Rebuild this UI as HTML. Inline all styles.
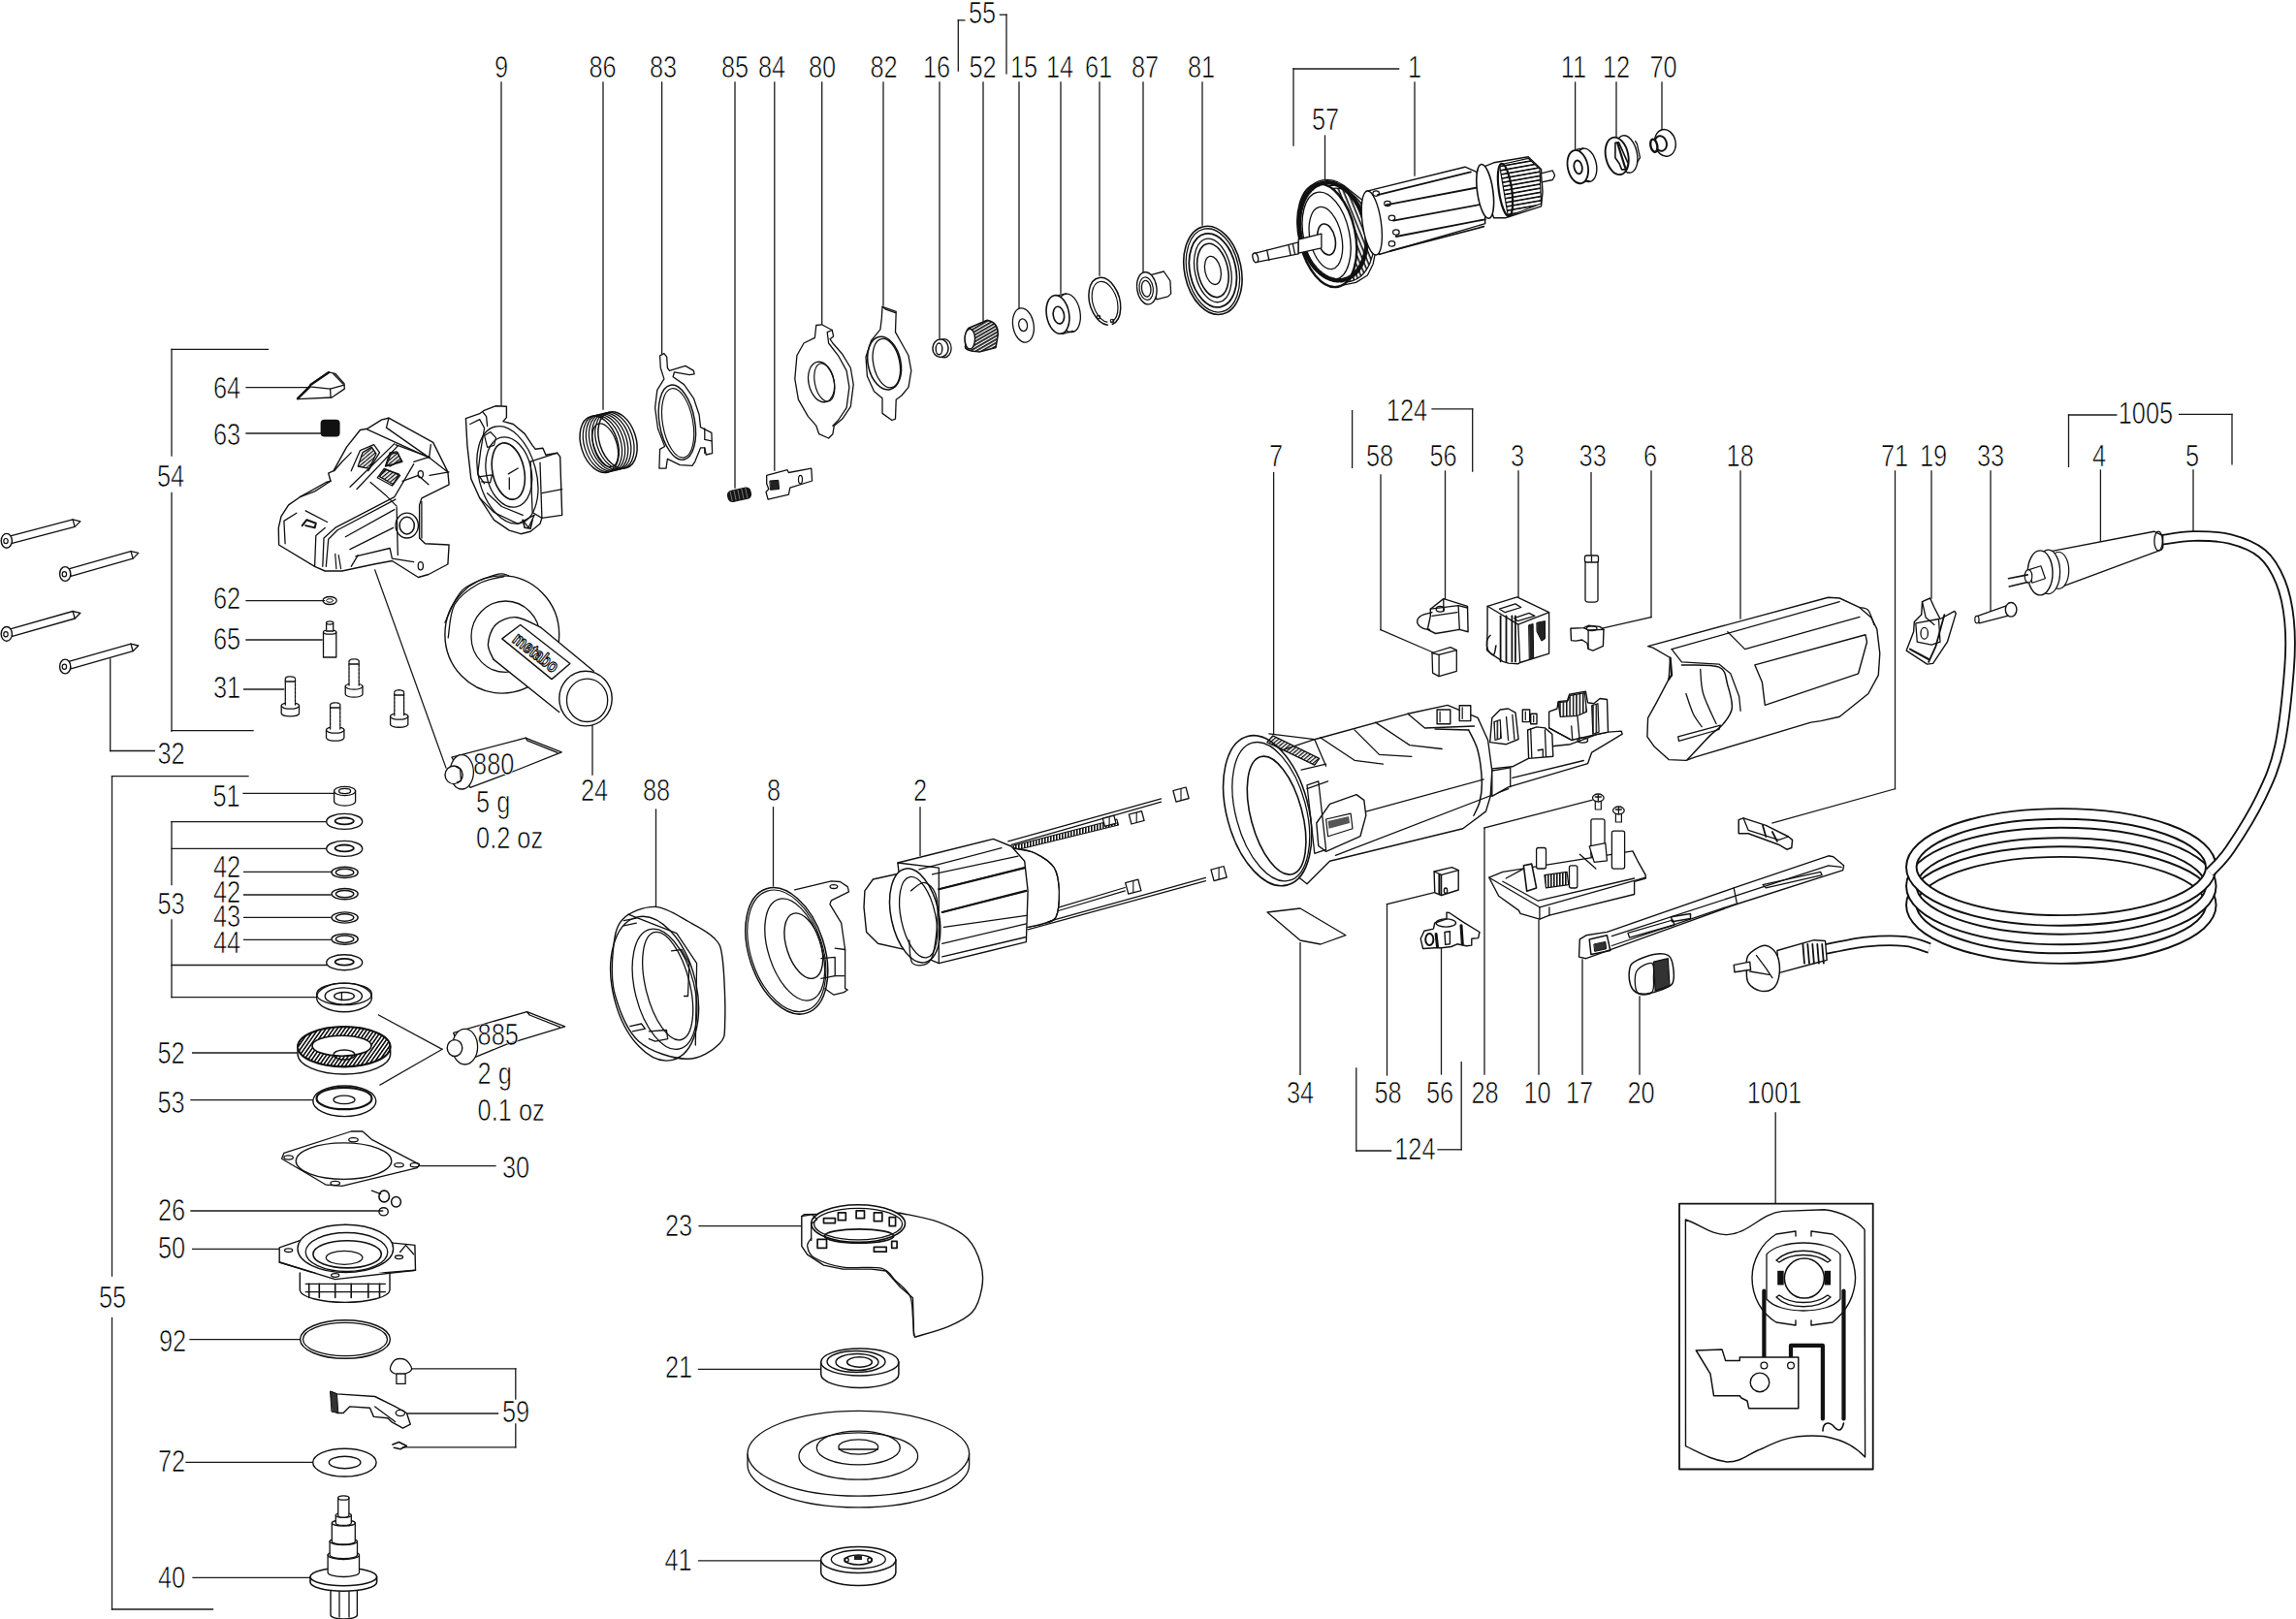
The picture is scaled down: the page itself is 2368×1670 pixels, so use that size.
<!DOCTYPE html><html><head><meta charset="utf-8"><style>html,body{margin:0;padding:0;background:#fff;overflow:hidden}svg{display:block}</style></head><body>
<svg width="2368" height="1670" viewBox="0 0 2368 1670">
<rect width="2368" height="1670" fill="#fff"/>
<g stroke="#1a1a1a" stroke-width="1.3" fill="none" stroke-linecap="square">
<line x1="517" y1="85" x2="517" y2="418"/>
<line x1="622" y1="85" x2="622" y2="422"/>
<line x1="682.6" y1="85" x2="682.6" y2="364.5"/>
<line x1="758" y1="85" x2="758" y2="503"/>
<line x1="798.8" y1="85" x2="798.8" y2="485"/>
<line x1="847.7" y1="85" x2="847.7" y2="334.5"/>
<line x1="911" y1="85" x2="911" y2="315"/>
<line x1="969" y1="85" x2="969" y2="349"/>
<line x1="1014" y1="85" x2="1014" y2="330.5"/>
<line x1="1051" y1="85" x2="1051" y2="318.5"/>
<line x1="1094" y1="85" x2="1094" y2="302"/>
<line x1="1134" y1="85" x2="1134" y2="284"/>
<line x1="1179" y1="85" x2="1179" y2="281"/>
<line x1="1240" y1="85" x2="1240" y2="232"/>
<line x1="1459" y1="85" x2="1459" y2="181"/>
<line x1="1366.5" y1="140" x2="1366.5" y2="189.5"/>
<line x1="1624.6" y1="85" x2="1624.6" y2="153.5"/>
<line x1="1667" y1="85" x2="1667" y2="140.5"/>
<line x1="1714" y1="85" x2="1714" y2="134"/>
<line x1="988.3" y1="20.9" x2="988.3" y2="73.2"/>
<line x1="988.3" y1="20.9" x2="994.8" y2="20.9"/>
<line x1="1031.4" y1="15.2" x2="1038" y2="15.2"/>
<line x1="1038" y1="15.2" x2="1038" y2="75.8"/>
<line x1="1334" y1="71" x2="1442.6" y2="71"/>
<line x1="1334" y1="71" x2="1334" y2="150"/>
<line x1="1394.6" y1="423.6" x2="1394.6" y2="482.4"/>
<line x1="1477" y1="421.8" x2="1518.7" y2="421.8"/>
<line x1="1518.7" y1="421.8" x2="1518.7" y2="486"/>
<line x1="1313.6" y1="487.6" x2="1313.6" y2="757"/>
<line x1="1424" y1="490" x2="1424" y2="649.6"/>
<line x1="1424" y1="649.6" x2="1478" y2="673"/>
<line x1="1490.5" y1="486" x2="1490.5" y2="618"/>
<line x1="1566" y1="486" x2="1566" y2="615.7"/>
<line x1="1641" y1="487.6" x2="1641" y2="575"/>
<line x1="1703" y1="486" x2="1703" y2="636.6"/>
<line x1="1703" y1="636.6" x2="1653" y2="648"/>
<line x1="1795" y1="486" x2="1795" y2="638"/>
<line x1="1954.5" y1="486" x2="1954.5" y2="813.7"/>
<line x1="1954.5" y1="813.7" x2="1828" y2="849"/>
<line x1="1992" y1="486" x2="1992" y2="617"/>
<line x1="2053" y1="486" x2="2053" y2="634"/>
<line x1="2166.4" y1="485" x2="2166.4" y2="560.5"/>
<line x1="2262" y1="485" x2="2262" y2="547.5"/>
<line x1="2133.5" y1="428" x2="2133.5" y2="481.4"/>
<line x1="2133.5" y1="428" x2="2182.8" y2="428"/>
<line x1="2247.6" y1="427.4" x2="2302" y2="427.4"/>
<line x1="2302" y1="427.4" x2="2302" y2="478.8"/>
<line x1="177" y1="360.4" x2="177" y2="470"/>
<line x1="177" y1="508.5" x2="177" y2="754"/>
<line x1="177" y1="360.4" x2="276.5" y2="360.4"/>
<line x1="177" y1="753.6" x2="261" y2="753.6"/>
<line x1="254" y1="399.6" x2="317.5" y2="399.6"/>
<line x1="254" y1="447" x2="332" y2="447"/>
<line x1="254" y1="619.6" x2="334.5" y2="619.6"/>
<line x1="254" y1="660" x2="332" y2="660"/>
<line x1="251.6" y1="711" x2="292.6" y2="711"/>
<line x1="113.7" y1="680" x2="113.7" y2="774.5"/>
<line x1="113.7" y1="774.5" x2="159.4" y2="774.5"/>
<line x1="115.5" y1="800.6" x2="115.5" y2="1316"/>
<line x1="115.5" y1="1359.5" x2="115.5" y2="1660"/>
<line x1="115.5" y1="800.6" x2="256" y2="800.6"/>
<line x1="115.5" y1="1660" x2="219.5" y2="1660"/>
<line x1="251" y1="818.4" x2="343.6" y2="818.4"/>
<line x1="177" y1="847.7" x2="177" y2="912.5"/>
<line x1="177" y1="949" x2="177" y2="1028.7"/>
<line x1="177" y1="847.7" x2="337" y2="847.7"/>
<line x1="177" y1="875.4" x2="337" y2="875.4"/>
<line x1="177" y1="995.5" x2="337" y2="995.5"/>
<line x1="177" y1="1028.7" x2="326.6" y2="1028.7"/>
<line x1="251.6" y1="899.4" x2="342.3" y2="899.4"/>
<line x1="251.6" y1="923" x2="341" y2="923"/>
<line x1="251.6" y1="946.4" x2="341" y2="946.4"/>
<line x1="251.6" y1="969.4" x2="341" y2="969.4"/>
<line x1="198.6" y1="1086" x2="307" y2="1086"/>
<line x1="197" y1="1134.6" x2="324" y2="1134.6"/>
<line x1="433.8" y1="1202.7" x2="511" y2="1202.7"/>
<line x1="197" y1="1249" x2="394.6" y2="1249"/>
<line x1="198.6" y1="1288.4" x2="287.4" y2="1288.4"/>
<line x1="196" y1="1381.7" x2="309.6" y2="1381.7"/>
<line x1="531.8" y1="1411.8" x2="531.8" y2="1443"/>
<line x1="531.8" y1="1469" x2="531.8" y2="1492.8"/>
<line x1="423.3" y1="1411.8" x2="531.8" y2="1411.8"/>
<line x1="420.7" y1="1458" x2="513.5" y2="1458"/>
<line x1="415.5" y1="1492.8" x2="531.8" y2="1492.8"/>
<line x1="192" y1="1508.4" x2="322.7" y2="1508.4"/>
<line x1="199" y1="1627.3" x2="320" y2="1627.3"/>
<line x1="386.7" y1="588" x2="460" y2="792"/>
<line x1="611" y1="748" x2="611" y2="799"/>
<line x1="676.5" y1="835" x2="676.5" y2="934.7"/>
<line x1="797.5" y1="832.8" x2="797.5" y2="913.8"/>
<line x1="949" y1="832.8" x2="949" y2="882.4"/>
<line x1="390.6" y1="1047" x2="456" y2="1082.3"/>
<line x1="392" y1="1119" x2="456" y2="1082.3"/>
<line x1="721" y1="1264.7" x2="828.5" y2="1264.7"/>
<line x1="720.5" y1="1412.4" x2="846.7" y2="1412.4"/>
<line x1="720.5" y1="1609.8" x2="846.7" y2="1609.8"/>
<line x1="1341" y1="972.6" x2="1341" y2="1108.4"/>
<line x1="1430.5" y1="932.6" x2="1430.5" y2="1109"/>
<line x1="1430.5" y1="932.6" x2="1478.6" y2="920.8"/>
<line x1="1486.5" y1="977" x2="1486.5" y2="1108"/>
<line x1="1531" y1="854" x2="1531" y2="1108"/>
<line x1="1531" y1="854" x2="1642" y2="825.4"/>
<line x1="1587" y1="949.5" x2="1587" y2="1108"/>
<line x1="1632" y1="990" x2="1632" y2="1108"/>
<line x1="1691" y1="1028" x2="1691" y2="1108"/>
<line x1="1398.8" y1="1102" x2="1398.8" y2="1187"/>
<line x1="1398.8" y1="1187" x2="1434.6" y2="1187"/>
<line x1="1483" y1="1185.8" x2="1507.2" y2="1185.8"/>
<line x1="1507.2" y1="1095.7" x2="1507.2" y2="1185.8"/>
<line x1="1831.2" y1="1148" x2="1831.2" y2="1241.6"/>
</g>
<g stroke-linejoin="round" stroke-linecap="round">
<path d="M307,411.1 L320,397.2 L338.9,383.9 L345.6,385.3 L355,395.6 L355.3,401.1 L342.2,410 L307,411.7 Z" fill="#fff" stroke="#111" stroke-width="1.3" />
<path d="M320,397.2 L319.5,398.9 L340.6,401.1 L355,397.2" fill="none" stroke="#111" stroke-width="1.3" />
<path d="M340.6,401.1 L341.1,410" fill="none" stroke="#111" stroke-width="1.3" />
<path d="M343.9,385.8 L353.9,396.1" fill="none" stroke="#111" stroke-width="1.3" />
<path d="M307,411.1 L319.5,398.9" fill="none" stroke="#111" stroke-width="2.5" />
<path d="M320.6,396.7 L338.9,384.2" fill="none" stroke="#111" stroke-width="2.5" />
<rect x="330.6" y="432.8" width="20" height="17.8" rx="4" fill="#111"/>
<path d="M287.6,562 L287.3,544.4 L290,532.7 L297.6,520.9 L309.3,512.7 L336.3,497.5 L341,496.3 L338.7,488.1 L344,485.7 L357.5,461.1 L371.5,443.5 L378.6,442.3 L393.8,432.9 L400.9,431.2 L446.7,456.4 L461.9,486.9 L463.1,499.8 L434.9,513.9 L432.6,520.9 L432.6,555 L438.5,560.8 L463.1,562 L461.9,582 L442,592.5 L431.4,595.5 L404.4,578.5 L385.6,582 L352.8,589 L335.2,589 L324.6,584.3 Z" fill="#fff" stroke="#111" stroke-width="1.4" />
<path d="M361,502.2 L406.8,457.6" fill="none" stroke="#111" stroke-width="1.3" />
<path d="M368,504.5 L410.3,459.9" fill="none" stroke="#111" stroke-width="1.3" />
<path d="M378.6,442.9 L442.6,472.2" fill="none" stroke="#111" stroke-width="1.3" />
<path d="M407.9,458.7 L443.1,471.6" fill="none" stroke="#111" stroke-width="1.3" />
<path d="M442.6,472.2 L444.3,458.7" fill="none" stroke="#111" stroke-width="1.3" />
<path d="M426.7,476.3 L442,471.6 L461.9,486.9" fill="none" stroke="#111" stroke-width="1.3" />
<path d="M332.8,584.3 L334,555 L345.7,544.4 L406.8,512.7 L426.7,478.7" fill="none" stroke="#111" stroke-width="1.3" />
<path d="M336.3,584.3 L338.7,556.2 L348.1,546.8 L407.9,515.1" fill="none" stroke="#111" stroke-width="1.3" />
<path d="M356.3,553.8 L406.8,525.6" fill="none" stroke="#111" stroke-width="1.3" />
<path d="M361,566.7 L405.6,544.4" fill="none" stroke="#111" stroke-width="1.3" />
<path d="M366.9,573.8 L402.1,565.5 L404.4,576.1 L426.7,579.6" fill="none" stroke="#111" stroke-width="1.3" />
<path d="M362.2,584.3 L369.2,572.6" fill="none" stroke="#111" stroke-width="1.3" />
<path d="M315.2,526.8 L337.5,538.5" fill="none" stroke="#111" stroke-width="1.3" />
<path d="M309.3,512.7 L324.6,506.9 L341,496.3" fill="none" stroke="#111" stroke-width="1.3" />
<path d="M294.1,560.8 L292.9,537.4 L305.8,529.2" fill="none" stroke="#111" stroke-width="1.3" />
<path d="M324.6,584.3 L325.8,552.6 L335.2,544.4" fill="none" stroke="#111" stroke-width="1.3" />
<path d="M409.1,523.3 L410.3,572.6" fill="none" stroke="#111" stroke-width="1.3" />
<path d="M434.9,517.4 L434.9,555" fill="none" stroke="#111" stroke-width="1.3" />
<path d="M443.1,490.4 L463.1,486.9" fill="none" stroke="#111" stroke-width="1.3" />
<path d="M415,496.3 L431.4,490.4 L442,499.8" fill="none" stroke="#111" stroke-width="1.3" />
<path d="M382.1,497.5 L397.4,510.4 L409.1,522.1" fill="none" stroke="#111" stroke-width="1.3" />
<path d="M389.2,492.8 L396.2,483.4 L412.6,490.4 L404.4,501 L389.2,492.8" fill="none" stroke="#111" stroke-width="1.3" />
<path d="M397.4,481 L402.1,466.9 L409.1,465.8 L415,476.3 L397.4,481" fill="none" stroke="#111" stroke-width="1.3" />
<path d="M362.2,485.7 L371.5,464.6 L385.6,458.7 L391.5,466.9 L379.8,485.7" fill="none" stroke="#111" stroke-width="1.3" />
<path d="M344.6,485.7 L352.8,476.3 L362.2,466.9" fill="none" stroke="#111" stroke-width="1.3" />
<ellipse cx="419.7" cy="542.1" rx="7.6" ry="8.8" fill="none" stroke="#111" stroke-width="1.5"/>
<ellipse cx="419.7" cy="542.1" rx="11.7" ry="12.9" fill="none" stroke="#111" stroke-width="1.3"/>
<ellipse cx="433.8" cy="583.7" rx="2.6" ry="4.1" fill="none" stroke="#111" stroke-width="1.3"/>
<ellipse cx="433.8" cy="489.2" rx="2.6" ry="3.5" fill="none" stroke="#111" stroke-width="1.3"/>
<path d="M311.7,542.1 L316.4,536.2 L325.8,539.7 L324.6,544.4 L315.2,542.1" fill="none" stroke="#111" stroke-width="2" />
<path d="M480.4,431.6 L494.7,426.7 L498.7,423.7 L511,418.8 L522.4,419.3 L522.4,430.6 L518.9,434.6 L529.3,437.5 L541.1,447.4 L549.1,459.3 L552,463.2 L559.9,462.3 L562.9,469.2 L574.7,467.2 L577.7,471.1 L579.7,531.4 L558.9,534.4 L557,540.3 L547.1,548.2 L537.2,550.7 L525.3,547.2 L509.5,536.4 L494.7,513.6 L485.8,493.9 L481.9,459.3 Z" fill="#fff" stroke="#111" stroke-width="1.4" />
<ellipse cx="524.3" cy="486" rx="16.3" ry="29.6" fill="none" stroke="#111" stroke-width="1.6" transform="rotate(-12 524.3 486)"/>
<ellipse cx="524.8" cy="487" rx="23.2" ry="36.6" fill="none" stroke="#111" stroke-width="1.3" transform="rotate(-12 524.8 487)"/>
<ellipse cx="523.4" cy="489.9" rx="29.6" ry="51.4" fill="none" stroke="#111" stroke-width="1.3" transform="rotate(-15 523.4 489.9)"/>
<path d="M547.1,476.1 L574.7,467.2" fill="none" stroke="#111" stroke-width="1.3" />
<path d="M557,477.1 L558.9,534.4" fill="none" stroke="#111" stroke-width="1.3" />
<path d="M547.1,476.1 L549.1,528.5 L558.9,534.4" fill="none" stroke="#111" stroke-width="1.3" />
<path d="M558.9,508.7 L579.7,504.7" fill="none" stroke="#111" stroke-width="1.3" />
<path d="M484.8,437.5 L494.7,432.6 L499.6,441.5 L495.7,465.2 L492.7,488.9 L499.6,498.8" fill="none" stroke="#111" stroke-width="1.3" />
<path d="M493.7,491.9 L507.5,489.9 L505.6,497.8 L496.7,496.8" fill="none" stroke="#111" stroke-width="1.3" />
<path d="M524.3,488.9 L534.2,483" fill="none" stroke="#111" stroke-width="1.3" />
<path d="M525.3,492.9 L525.3,504.7" fill="none" stroke="#111" stroke-width="1.3" />
<path d="M539.2,536.4 L545.1,544.3 L551,531.4" fill="none" stroke="#111" stroke-width="1.3" />
<path d="M497.7,424.7 L501.6,429.6 L502.6,439.5" fill="none" stroke="#111" stroke-width="1.3" />
<path d="M12.6,560.3 L77.1,543.4 L82.9,537.9 L75.1,535.9 L10.7,552.8 Z" fill="#fff" stroke="#111" stroke-width="1.3" />
<path d="M77.1,543.4 L75.1,535.9" fill="none" stroke="#111" stroke-width="1.3" />
<ellipse cx="6.8" cy="557.8" rx="5.6" ry="7.4" fill="#fff" stroke="#111" stroke-width="1.4"/>
<ellipse cx="6" cy="558.1" rx="2.2" ry="2.6" fill="none" stroke="#111" stroke-width="1.2"/>
<path d="M73.1,594.4 L137.1,576.1 L142.8,570.4 L135,568.6 L70.9,586.9 Z" fill="#fff" stroke="#111" stroke-width="1.3" />
<path d="M137.1,576.1 L135,568.6" fill="none" stroke="#111" stroke-width="1.3" />
<ellipse cx="67.2" cy="592" rx="5.6" ry="7.4" fill="#fff" stroke="#111" stroke-width="1.4"/>
<ellipse cx="66.4" cy="592.3" rx="2.2" ry="2.6" fill="none" stroke="#111" stroke-width="1.2"/>
<path d="M12.7,656.3 L77.2,638 L82.9,632.3 L75.1,630.5 L10.5,648.8 Z" fill="#fff" stroke="#111" stroke-width="1.3" />
<path d="M77.2,638 L75.1,630.5" fill="none" stroke="#111" stroke-width="1.3" />
<ellipse cx="6.8" cy="653.9" rx="5.6" ry="7.4" fill="#fff" stroke="#111" stroke-width="1.4"/>
<ellipse cx="6" cy="654.2" rx="2.2" ry="2.6" fill="none" stroke="#111" stroke-width="1.2"/>
<path d="M73.1,689.9 L137.1,671.7 L142.8,666 L135,664.2 L70.9,682.4 Z" fill="#fff" stroke="#111" stroke-width="1.3" />
<path d="M137.1,671.7 L135,664.2" fill="none" stroke="#111" stroke-width="1.3" />
<ellipse cx="67.2" cy="687.5" rx="5.6" ry="7.4" fill="#fff" stroke="#111" stroke-width="1.4"/>
<ellipse cx="66.4" cy="687.8" rx="2.2" ry="2.6" fill="none" stroke="#111" stroke-width="1.2"/>
<ellipse cx="340.1" cy="619.5" rx="7.1" ry="4" fill="none" stroke="#111" stroke-width="1.3"/>
<ellipse cx="340.1" cy="619.5" rx="3.5" ry="1.8" fill="none" stroke="#111" stroke-width="1"/>
<path d="M333.5,652 L333.5,678 L346.8,678 L346.8,652 Z" fill="#fff" stroke="#111" stroke-width="1.3" />
<ellipse cx="340.1" cy="652" rx="6.6" ry="2.2" fill="#fff" stroke="#111" stroke-width="1.3"/>
<path d="M336.6,643 L336.6,651 L343.7,651 L343.7,643 Z" fill="#fff" stroke="#111" stroke-width="1.3" />
<ellipse cx="340.1" cy="642.5" rx="3.6" ry="1.6" fill="#fff" stroke="#111" stroke-width="1.3"/>
<path d="M290.2,728 L290.2,736 A9.2,3.2 0 0 0 308.5,736 L308.5,728" fill="#fff" stroke="#111" stroke-width="1.3"/>
<ellipse cx="299.4" cy="728" rx="9.2" ry="3.2" fill="#fff" stroke="#111" stroke-width="1.3"/>
<path d="M294.3,727 L294.3,700 A5.1,2.2 0 0 1 304.5,700 L304.5,727" fill="#fff" stroke="#111" stroke-width="1.3" stroke-dasharray="3 1"/>
<path d="M294.3,703 L304.5,703" fill="none" stroke="#111" stroke-width="1.3" />
<path d="M356.2,708 L356.2,716 A8.9,3.2 0 0 0 374,716 L374,708" fill="#fff" stroke="#111" stroke-width="1.3"/>
<ellipse cx="365.1" cy="708" rx="8.9" ry="3.2" fill="#fff" stroke="#111" stroke-width="1.3"/>
<path d="M360,707 L360,682 A5.1,2.2 0 0 1 370.2,682 L370.2,707" fill="#fff" stroke="#111" stroke-width="1.3" stroke-dasharray="3 1"/>
<path d="M360,685 L370.2,685" fill="none" stroke="#111" stroke-width="1.3" />
<path d="M402.6,739 L402.6,747.5 A9.2,3.2 0 0 0 420.8,747.5 L420.8,739" fill="#fff" stroke="#111" stroke-width="1.3"/>
<ellipse cx="411.7" cy="739" rx="9.2" ry="3.2" fill="#fff" stroke="#111" stroke-width="1.3"/>
<path d="M406.8,738 L406.8,714 A4.8,2.2 0 0 1 416.6,714 L416.6,738" fill="#fff" stroke="#111" stroke-width="1.3" stroke-dasharray="3 1"/>
<path d="M406.8,717 L416.6,717" fill="none" stroke="#111" stroke-width="1.3" />
<path d="M336.5,753 L336.5,761 A9.2,3.2 0 0 0 354.9,761 L354.9,753" fill="#fff" stroke="#111" stroke-width="1.3"/>
<ellipse cx="345.7" cy="753" rx="9.2" ry="3.2" fill="#fff" stroke="#111" stroke-width="1.3"/>
<path d="M340.6,752 L340.6,727 A5.1,2.2 0 0 1 350.8,727 L350.8,752" fill="#fff" stroke="#111" stroke-width="1.3" stroke-dasharray="3 1"/>
<path d="M340.6,730 L350.8,730" fill="none" stroke="#111" stroke-width="1.3" />
<ellipse cx="517.8" cy="654.5" rx="58.9" ry="60.6" fill="#fff" stroke="#111" stroke-width="1.4"/>
<path d="M458.9,642.3 C461.9,636.7 468,617.2 476.7,608.9 C485.4,600.7 503.2,595.3 511.2,592.8 C519.1,590.2 522.3,593.4 524.5,593.6" fill="none" stroke="#111" stroke-width="1.3"/>
<path d="M462.2,657.8 C463.3,652.1 463.7,632.6 468.9,623.4 C474.1,614.1 484.8,607.1 493.4,602.2 C501.9,597.4 515.6,595.7 520,594.5" fill="none" stroke="#111" stroke-width="1.3"/>
<ellipse cx="521.4" cy="656.7" rx="35.4" ry="36.7" fill="none" stroke="#111" stroke-width="1.3"/>
<path d="M557.8,646.7 L612.3,692.3 L604.5,735.6 L576.7,734.5 L508.9,680.1" fill="#fff" stroke="#111" stroke-width="0" />
<path d="M557.8,647.3 C553.6,645.5 540.1,637.2 532.3,636.7 C524.5,636.2 516,639.8 511.2,644.5 C506.3,649.1 503.7,658.6 503.4,664.5 C503,670.4 508,677.5 508.9,680.1" fill="#fff" stroke="#111" stroke-width="1.4"/>
<path d="M557.8,647.3 L612.3,692.3" fill="none" stroke="#111" stroke-width="1.4" />
<path d="M508.9,680.1 L576.7,734.5" fill="none" stroke="#111" stroke-width="1.4" />
<ellipse cx="604" cy="720.6" rx="27.2" ry="28.3" fill="#fff" stroke="#111" stroke-width="1.4"/>
<ellipse cx="605.6" cy="722.3" rx="21.1" ry="22.2" fill="none" stroke="#111" stroke-width="1.3"/>
<path d="M517.8,658.9 L536.7,644.5 L587.9,684.5 L569,700.6 Z" fill="none" stroke="#111" stroke-width="1.4" />
<text transform="translate(552.8,672.8) rotate(38) scale(0.8,1)" text-anchor="middle" dominant-baseline="central" font-family="Liberation Sans" font-weight="bold" font-size="19" fill="#fff" stroke="#111" stroke-width="1.3">metabo</text>
<path d="M465.9,781.1 L542.1,761.2 L579.2,775.9 L532.5,794.5 L485,812.3 Z" fill="#fff" stroke="#111" stroke-width="1.3" />
<path d="M542.1,761.2 L543.8,763.8 L574.9,776.4" fill="none" stroke="#111" stroke-width="1.3" />
<ellipse cx="476.3" cy="796.3" rx="12.1" ry="17.7" fill="#fff" stroke="#111" stroke-width="1.3"/>
<ellipse cx="468.1" cy="799.3" rx="9.1" ry="9.3" fill="#fff" stroke="#111" stroke-width="1.4"/>
<path d="M470.3,790.6 L474.6,793.2 L475.5,805.4 L471.1,807.1" fill="none" stroke="#111" stroke-width="1.3" />
<path d="M344.6,816 L344.6,826.5 A11,4.6 0 0 0 366.6,826.5 L366.6,816" fill="#fff" stroke="#111" stroke-width="1.3"/>
<ellipse cx="355.6" cy="816" rx="11" ry="4.6" fill="#fff" stroke="#111" stroke-width="1.3"/>
<ellipse cx="355.6" cy="816" rx="6" ry="2.6" fill="none" stroke="#111" stroke-width="1.3"/>
<ellipse cx="355.2" cy="847.4" rx="18.5" ry="8" fill="#fff" stroke="#111" stroke-width="1.4"/>
<ellipse cx="355.2" cy="846.9" rx="9.6" ry="3.4" fill="none" stroke="#111" stroke-width="1.8"/>
<ellipse cx="355.2" cy="875.4" rx="18.5" ry="8" fill="#fff" stroke="#111" stroke-width="1.4"/>
<ellipse cx="355.2" cy="874.9" rx="9.6" ry="3.4" fill="none" stroke="#111" stroke-width="1.8"/>
<ellipse cx="355.2" cy="992.8" rx="18.5" ry="8" fill="#fff" stroke="#111" stroke-width="1.4"/>
<ellipse cx="355.2" cy="992.3" rx="9.6" ry="3.4" fill="none" stroke="#111" stroke-width="1.8"/>
<ellipse cx="355.6" cy="899.9" rx="13.6" ry="5.6" fill="#fff" stroke="#111" stroke-width="1.4"/>
<ellipse cx="355.6" cy="899.9" rx="9.3" ry="3.7" fill="none" stroke="#111" stroke-width="1.5"/>
<ellipse cx="355.6" cy="922.1" rx="13.6" ry="5.6" fill="#fff" stroke="#111" stroke-width="1.4"/>
<ellipse cx="355.6" cy="922.1" rx="9.3" ry="3.7" fill="none" stroke="#111" stroke-width="1.5"/>
<ellipse cx="355.6" cy="946.5" rx="13.6" ry="5.6" fill="#fff" stroke="#111" stroke-width="1.4"/>
<ellipse cx="355.6" cy="946.5" rx="9.3" ry="3.7" fill="none" stroke="#111" stroke-width="1.5"/>
<ellipse cx="355.6" cy="968.7" rx="13.6" ry="5.6" fill="#fff" stroke="#111" stroke-width="1.4"/>
<ellipse cx="355.6" cy="968.7" rx="9.3" ry="3.7" fill="none" stroke="#111" stroke-width="1.5"/>
<ellipse cx="355" cy="1028.9" rx="28.4" ry="14.8" fill="#fff" stroke="#111" stroke-width="1.4"/>
<ellipse cx="355" cy="1025.4" rx="28.4" ry="11.3" fill="none" stroke="#111" stroke-width="1.3"/>
<ellipse cx="354.3" cy="1027.5" rx="19.1" ry="8.6" fill="none" stroke="#111" stroke-width="1.4"/>
<ellipse cx="355" cy="1027.5" rx="10.3" ry="4" fill="none" stroke="#111" stroke-width="1.4"/>
<path d="M352.4,1024.1 L352.4,1031.8" fill="none" stroke="#111" stroke-width="1.3" />
<defs><pattern id="teeth" patternUnits="userSpaceOnUse" width="3.2" height="3.2" patternTransform="rotate(35)"><rect width="1.6" height="3.2" fill="#111"/></pattern></defs>
<path d="M307,1083 L307,1087 A47.8,21 0 0 0 402.7,1087 L402.7,1083" fill="#fff" stroke="#111" stroke-width="1.4"/>
<path d="M307,1080 A47.8,20.6 0 1 0 402.7,1080 A47.8,20.6 0 1 0 307,1080 Z M322,1078.7 A30.5,10.5 0 1 1 383,1078.7 A30.5,10.5 0 1 1 322,1078.7 Z" fill="url(#teeth)" fill-rule="evenodd" stroke="#111" stroke-width="1.6"/>
<ellipse cx="354.8" cy="1079.5" rx="47.8" ry="20.6" fill="none" stroke="#111" stroke-width="1.6"/>
<ellipse cx="355" cy="1088" rx="11" ry="5" fill="none" stroke="#111" stroke-width="1.3"/>
<ellipse cx="355.3" cy="1135.8" rx="32.5" ry="15.8" fill="#fff" stroke="#111" stroke-width="1.4"/>
<ellipse cx="355" cy="1133" rx="28.5" ry="11.2" fill="none" stroke="#111" stroke-width="2.2"/>
<ellipse cx="355" cy="1134.4" rx="11" ry="4.3" fill="none" stroke="#111" stroke-width="1.3"/>
<path d="M467.7,1065.3 L543.5,1043.6 L582.7,1058.8 L522.6,1077.1 L478.2,1095.4 Z" fill="#fff" stroke="#111" stroke-width="1.3" />
<path d="M543.5,1043.6 L546.1,1047 L577.5,1059.3" fill="none" stroke="#111" stroke-width="1.3" />
<ellipse cx="479.5" cy="1079.7" rx="13.1" ry="18.3" fill="#fff" stroke="#111" stroke-width="1.3"/>
<ellipse cx="469" cy="1081" rx="7.8" ry="8.4" fill="#fff" stroke="#111" stroke-width="1.4"/>
<path d="M290.6,1195.2 L292.9,1189.3 L362.2,1167 L373.9,1167 L383.3,1175.3 L432.6,1201.1 L430.3,1204.6 L352.8,1223.4 L336.3,1222.2 L324.6,1215.2 Z" fill="#fff" stroke="#111" stroke-width="1.3" />
<ellipse cx="354.5" cy="1197.6" rx="49.3" ry="18.8" fill="none" stroke="#111" stroke-width="1.3"/>
<ellipse cx="297.6" cy="1194" rx="4.7" ry="2.1" fill="none" stroke="#111" stroke-width="1.3"/>
<ellipse cx="364.5" cy="1175.8" rx="4.7" ry="2.1" fill="none" stroke="#111" stroke-width="1.3"/>
<ellipse cx="411.5" cy="1201.7" rx="4.7" ry="2.1" fill="none" stroke="#111" stroke-width="1.3"/>
<ellipse cx="427.9" cy="1201.7" rx="4.7" ry="2.1" fill="none" stroke="#111" stroke-width="1.3"/>
<ellipse cx="345.7" cy="1220.5" rx="4.7" ry="2.1" fill="none" stroke="#111" stroke-width="1.3"/>
<ellipse cx="396.2" cy="1234" rx="5.3" ry="5.9" fill="none" stroke="#111" stroke-width="1.6"/>
<ellipse cx="408.5" cy="1239.8" rx="4.9" ry="5.3" fill="none" stroke="#111" stroke-width="1.5"/>
<ellipse cx="395.6" cy="1249.8" rx="4.7" ry="4.1" fill="none" stroke="#111" stroke-width="1.4"/>
<path d="M383.3,1228.1 L392.7,1231.6" fill="none" stroke="#111" stroke-width="1.3" />
<path d="M288.2,1286.8 L307,1280.3 L356.3,1263.3 L405.6,1282.1 L427.9,1284.4 L428.5,1310.3 L397.4,1312.6 L345.7,1319.6 L288.2,1302 Z" fill="#fff" stroke="#111" stroke-width="1.4" />
<path d="M309.3,1313 L309.3,1331 A46.4,13 0 0 0 402,1331 L402,1313" fill="#fff" stroke="#111" stroke-width="1.4"/>
<path d="M288.2,1302 L345.7,1319.6 L428.5,1310.3" fill="none" stroke="#111" stroke-width="1.4" />
<ellipse cx="356.3" cy="1287.9" rx="49.3" ry="24.7" fill="#fff" stroke="#111" stroke-width="1.4"/>
<ellipse cx="357.5" cy="1291.5" rx="42.3" ry="20" fill="none" stroke="#111" stroke-width="1.3"/>
<ellipse cx="358.1" cy="1293.8" rx="35.2" ry="14.1" fill="none" stroke="#111" stroke-width="1.6"/>
<ellipse cx="355.1" cy="1297.3" rx="18.8" ry="7" fill="none" stroke="#111" stroke-width="1.3"/>
<ellipse cx="297.6" cy="1289.7" rx="4.1" ry="1.8" fill="none" stroke="#111" stroke-width="1.3"/>
<ellipse cx="411.5" cy="1296.8" rx="4.1" ry="1.8" fill="none" stroke="#111" stroke-width="1.3"/>
<ellipse cx="345.7" cy="1315.5" rx="4.1" ry="1.8" fill="none" stroke="#111" stroke-width="1.3"/>
<path d="M315.2,1324.3 L397.4,1324.3" fill="none" stroke="#111" stroke-width="1.3" />
<path d="M315.2,1332.6 L397.4,1332.6" fill="none" stroke="#111" stroke-width="1.3" />
<path d="M318.7,1324.3 L318.7,1338.4" fill="none" stroke="#111" stroke-width="1.6" />
<path d="M329.3,1324.3 L329.3,1338.4" fill="none" stroke="#111" stroke-width="1.6" />
<path d="M345.7,1324.3 L345.7,1338.4" fill="none" stroke="#111" stroke-width="1.6" />
<path d="M362.2,1324.3 L362.2,1338.4" fill="none" stroke="#111" stroke-width="1.6" />
<path d="M379.8,1324.3 L379.8,1338.4" fill="none" stroke="#111" stroke-width="1.6" />
<path d="M391.5,1324.3 L391.5,1338.4" fill="none" stroke="#111" stroke-width="1.6" />
<path d="M412.6,1291.5 L418.5,1284.4 L426.7,1293.8" fill="none" stroke="#111" stroke-width="1.3" />
<ellipse cx="356" cy="1381.5" rx="46.4" ry="19.8" fill="none" stroke="#111" stroke-width="1.4"/>
<ellipse cx="356" cy="1381.5" rx="43.5" ry="17.2" fill="none" stroke="#111" stroke-width="1.3"/>
<path d="M402.4,1411.8 C402.4,1409.4 405,1404.1 407.6,1402.6 C410.2,1401.1 415.3,1401.1 418.1,1402.6 C420.9,1404.1 424.6,1409.4 424.6,1411.8 C424.6,1414.1 420.9,1416.1 418.1,1417 C415.3,1417.9 410.2,1417.9 407.6,1417 C405,1416.1 402.4,1414.1 402.4,1411.8 Z" fill="#fff" stroke="#111" stroke-width="1.3"/>
<path d="M408.9,1417 L408.9,1427.4 L418.1,1427.4 L418.1,1417 Z" fill="#fff" stroke="#111" stroke-width="1.3" />
<path d="M341,1435.3 L347.5,1437.9 L386.7,1440.5 L407.6,1450.9 L419.4,1457.5 L423.3,1469.2 L415.5,1473.2 L403.7,1466.6 L399.8,1462.7 L385.4,1461.4 L381.5,1452.3 L360.6,1450.9 L354.1,1457.5 L347.5,1457.5 L342.3,1448.3 Z" fill="#fff" stroke="#111" stroke-width="1.4" />
<path d="M341,1435.3 L347.5,1437.9 L348.8,1457.5 L342.3,1456.2 Z" fill="#333" stroke="#111" stroke-width="1" />
<ellipse cx="412.9" cy="1457.5" rx="4.7" ry="3.1" fill="none" stroke="#111" stroke-width="1.3"/>
<path d="M386.7,1450.9 L407.6,1466.6" fill="none" stroke="#111" stroke-width="1.3" />
<path d="M405,1490.1 L411.5,1487.5 L419.4,1491.5 L412.9,1494.8 L406.3,1493.3" fill="none" stroke="#111" stroke-width="1.6" />
<ellipse cx="355.4" cy="1508.6" rx="32.7" ry="14.4" fill="#fff" stroke="#111" stroke-width="1.4"/>
<ellipse cx="355.6" cy="1508.5" rx="16.3" ry="6.2" fill="none" stroke="#111" stroke-width="1.4"/>
<path d="M341,1640 L341,1666 A13.7,4 0 0 0 368.4,1666 L368.4,1640" fill="#fff" stroke="#111" stroke-width="1.4"/>
<path d="M350,1642 L350,1668" fill="none" stroke="#111" stroke-width="1.3" />
<path d="M360,1642 L360,1668" fill="none" stroke="#111" stroke-width="1.3" />
<path d="M320,1626.5 L320,1632 A34.3,9.2 0 0 0 388.6,1632 L388.6,1626.5" fill="#fff" stroke="#111" stroke-width="1.6"/>
<ellipse cx="354.3" cy="1626.5" rx="34.3" ry="9.2" fill="#fff" stroke="#111" stroke-width="1.6"/>
<path d="M338.1,1604 L338.1,1622 A16.2,4.5 0 0 0 370.5,1622 L370.5,1604" fill="#fff" stroke="#111" stroke-width="1.3"/>
<ellipse cx="354.3" cy="1604" rx="16.2" ry="4.5" fill="#fff" stroke="#111" stroke-width="1.3"/>
<path d="M340.1,1590 L340.1,1604 A14.2,3.6 0 0 0 368.5,1604 L368.5,1590" fill="#fff" stroke="#111" stroke-width="1.3"/>
<ellipse cx="354.3" cy="1590" rx="14.2" ry="3.6" fill="#fff" stroke="#111" stroke-width="1.3"/>
<path d="M342.3,1571 L342.3,1590 A12,3 0 0 0 366.3,1590 L366.3,1571" fill="#fff" stroke="#111" stroke-width="1.3"/>
<ellipse cx="354.3" cy="1571" rx="12" ry="3" fill="#fff" stroke="#111" stroke-width="1.3"/>
<path d="M346.3,1563 L346.3,1571 A8,2.4 0 0 0 362.3,1571 L362.3,1563" fill="#fff" stroke="#111" stroke-width="1.3"/>
<ellipse cx="354.3" cy="1563" rx="8" ry="2.4" fill="#fff" stroke="#111" stroke-width="1.3"/>
<path d="M348.7,1545 L348.7,1563 A5.6,2.2 0 0 0 359.9,1563 L359.9,1545" fill="#fff" stroke="#111" stroke-width="1.3"/>
<ellipse cx="354.3" cy="1545" rx="5.6" ry="2.2" fill="#fff" stroke="#111" stroke-width="1.3"/>
<ellipse cx="618.2" cy="458.3" rx="18.8" ry="30.1" fill="#fff" stroke="#111" stroke-width="1.5" transform="rotate(-18 618.2 458.3)"/>
<ellipse cx="621.4" cy="457.6" rx="18.8" ry="30.1" fill="none" stroke="#111" stroke-width="1.3" transform="rotate(-18 621.4 457.6)"/>
<ellipse cx="624.5" cy="456.8" rx="18.8" ry="30.1" fill="none" stroke="#111" stroke-width="1.3" transform="rotate(-18 624.5 456.8)"/>
<ellipse cx="627.6" cy="456.1" rx="18.8" ry="30.1" fill="none" stroke="#111" stroke-width="1.3" transform="rotate(-18 627.6 456.1)"/>
<ellipse cx="630.7" cy="455.3" rx="18.8" ry="30.1" fill="none" stroke="#111" stroke-width="1.3" transform="rotate(-18 630.7 455.3)"/>
<ellipse cx="633.9" cy="454.6" rx="18.8" ry="30.1" fill="none" stroke="#111" stroke-width="1.3" transform="rotate(-18 633.9 454.6)"/>
<ellipse cx="637" cy="453.9" rx="18.8" ry="30.1" fill="none" stroke="#111" stroke-width="1.5" transform="rotate(-18 637 453.9)"/>
<ellipse cx="624.2" cy="459.3" rx="11.9" ry="23.2" fill="none" stroke="#111" stroke-width="1.3" transform="rotate(-18 624.2 459.3)"/>
<path d="M680.6,366.8 L684.9,364.6 L687.7,368.2 L688.4,379.5 L690.5,382.4 L706.9,377.4 L715.4,382.4 L716.1,385.9 L711.1,386.6 L695.5,383.8 L694.1,388.8 L705.5,396.6 L715.4,410.8 L721.1,427.8 L722.5,440.6 L733.9,446.3 L734.6,467.6 L728.2,469 L726.8,461.9 L722.5,461.9 L716.8,476.1 L714,480.4 L701.2,479.7 L688.4,473.3 L687,483.2 L679.9,483.2 L680.6,463.4 L685.6,460.5 L678.5,442 L675.6,420.7 L677.8,402.3 L684.9,390.9 L681.3,379.5 Z" fill="#fff" stroke="#111" stroke-width="1.3" />
<ellipse cx="698.4" cy="435.7" rx="18.2" ry="39.1" fill="none" stroke="#111" stroke-width="1.4" transform="rotate(-10 698.4 435.7)"/>
<ellipse cx="699.1" cy="436.4" rx="15.6" ry="36.2" fill="none" stroke="#111" stroke-width="1.2" transform="rotate(-10 699.1 436.4)"/>
<path d="M726.8,442 L726.8,453.4 L733.9,454.8" fill="none" stroke="#111" stroke-width="1.3" />
<path d="M726.8,461.9 L726.8,467.6" fill="none" stroke="#111" stroke-width="1.3" />
<g transform="rotate(-12 762.6 510.2)"><rect x="750" y="504" width="25" height="12.5" rx="5" fill="#151515"/><path d="M754,505 L754,515 M758,505 L758,515 M762,505 L762,515 M766,505 L766,515 M770,505 L770,515" stroke="#888" stroke-width="0.8"/></g>
<path d="M790.7,490.3 L812,484.7 L813.4,487.5 L836.8,483.2 L837.6,496 L814.8,503.1 L813.4,510.2 L792.1,515.2 L790,507.4 L792.8,504.5 L790.7,498.9 Z" fill="#fff" stroke="#111" stroke-width="1.3" />
<path d="M794.2,496 L802.8,495.3 L803.5,504.5 L794.9,505.3 Z" fill="#222" stroke="#111" stroke-width="1" />
<ellipse cx="825.5" cy="494.6" rx="2" ry="4.3" fill="none" stroke="#111" stroke-width="1.2"/>
<path d="M841.8,335.5 L847.5,334.8 L858.2,340.5 L859.6,346.9 L856,349.7 L858.9,354 L868.8,365.3 L877.3,379.5 L880.2,396.6 L877.3,419.3 L868.8,432.1 L860.3,439.2 L858.9,447.7 L854.6,452 L844.7,447.7 L841.8,439.2 L833.3,429.3 L823.4,412.2 L819.8,390.9 L821.9,366.8 L829,354 L840.4,348.3 Z" fill="#fff" stroke="#111" stroke-width="1.3" />
<path d="M858.2,340.5 L853.2,342.6 L854.6,354 L864.5,366.8 L873.1,382.4 L875.9,399.4 L873.1,420.7 L864.5,433.5 L858.9,439.2" fill="none" stroke="#111" stroke-width="1.3" />
<ellipse cx="847.1" cy="394" rx="13.1" ry="21" fill="none" stroke="#111" stroke-width="1.3" transform="rotate(-12 847.1 394)"/>
<ellipse cx="850.3" cy="394.5" rx="9.9" ry="19.9" fill="none" stroke="#111" stroke-width="1.2" transform="rotate(-12 850.3 394.5)"/>
<path d="M910,316.3 L924.2,321.3 L923.5,342.6 L929.9,354 L937,366.8 L939.8,382.4 L937,399.4 L929.9,408 L924.2,412.2 L923.5,432.1 L919.9,433.5 L910,426.4 L910,410.8 L901.5,403.7 L894.4,388.1 L893,368.2 L898.6,351.1 L907.9,339.8 L909.3,328.4 Z" fill="#fff" stroke="#111" stroke-width="1.3" />
<path d="M910,316.3 L913.6,319.2 L923.5,322.7" fill="none" stroke="#111" stroke-width="1.3" />
<ellipse cx="912.1" cy="374.6" rx="16.8" ry="27.7" fill="none" stroke="#111" stroke-width="1.6" transform="rotate(-12 912.1 374.6)"/>
<ellipse cx="914.3" cy="374.6" rx="13.5" ry="25.6" fill="none" stroke="#111" stroke-width="1.3" transform="rotate(-12 914.3 374.6)"/>
<ellipse cx="973.7" cy="359.2" rx="7.4" ry="9.6" fill="#fff" stroke="#111" stroke-width="1.3"/>
<ellipse cx="970" cy="359.2" rx="8.1" ry="9.2" fill="#fff" stroke="#111" stroke-width="1.5"/>
<ellipse cx="968.5" cy="359.9" rx="3.3" ry="5.9" fill="none" stroke="#111" stroke-width="1.4"/>
<defs><pattern id="hel" patternUnits="userSpaceOnUse" width="3" height="3" patternTransform="rotate(-30)"><rect width="3" height="1.7" fill="#111"/></pattern></defs>
<path d="M998.9,338.5 L1018.1,330.3 Q1030,332.5 1029.2,345.9 L1027,358.5 L1010.7,362.9 Q992.9,362.2 995.9,356.2 Q993.7,344.4 998.9,338.5 Z" fill="url(#hel)" stroke="#111" stroke-width="1.5"/>
<ellipse cx="1000.3" cy="349.6" rx="5.2" ry="10.4" fill="#fff" stroke="#111" stroke-width="1.4"/>
<ellipse cx="1055.4" cy="335.5" rx="10.7" ry="17.8" fill="#fff" stroke="#111" stroke-width="1.3" transform="rotate(-10 1055.4 335.5)"/>
<ellipse cx="1055.1" cy="335.2" rx="4.4" ry="6.4" fill="none" stroke="#111" stroke-width="1.3" transform="rotate(-10 1055.1 335.2)"/>
<ellipse cx="1102.5" cy="322.9" rx="11.5" ry="20" transform="rotate(-10 1102.5 322.9)" fill="#fff" stroke="#111" stroke-width="1.3"/>
<path d="M1092.2,304.4 L1099.6,302.9" fill="none" stroke="#111" stroke-width="1.3" />
<path d="M1095.9,344.4 L1107,341.4" fill="none" stroke="#111" stroke-width="1.3" />
<ellipse cx="1091" cy="324.4" rx="11.6" ry="20" fill="#fff" stroke="#111" stroke-width="1.6" transform="rotate(-10 1091 324.4)"/>
<ellipse cx="1091.9" cy="325.1" rx="5.6" ry="8.9" fill="none" stroke="#111" stroke-width="1.6" transform="rotate(-10 1091.9 325.1)"/>
<path d="M1139,335.1 A15.5,25 -8 1 1 1144,335.1" transform="rotate(-8 1141 311.1)" fill="none" stroke="#111" stroke-width="1.5"/>
<path d="M1139,332.1 A12.5,21.5 -8 1 1 1144,332.1" transform="rotate(-8 1141 311.1)" fill="none" stroke="#111" stroke-width="1.2"/>
<circle cx="1133" cy="327.1" r="1.8" fill="none" stroke="#111" stroke-width="1.1"/><circle cx="1147" cy="331.1" r="1.8" fill="none" stroke="#111" stroke-width="1.1"/>
<path d="M1186.9,283.7 L1200.3,280 L1206.9,289.6 L1207.7,302.9 L1204.7,305.9 L1192.9,308.8 Z" fill="#fff" stroke="#111" stroke-width="1.3" />
<ellipse cx="1182.8" cy="297.3" rx="10.1" ry="16.7" fill="#fff" stroke="#111" stroke-width="1.4" transform="rotate(-8 1182.8 297.3)"/>
<ellipse cx="1182.2" cy="297.7" rx="7.1" ry="11.8" fill="none" stroke="#111" stroke-width="1.2" transform="rotate(-8 1182.2 297.7)"/>
<ellipse cx="1182.2" cy="297.7" rx="4.7" ry="8.4" fill="none" stroke="#111" stroke-width="1.3" transform="rotate(-8 1182.2 297.7)"/>
<ellipse cx="1250.9" cy="278.9" rx="29.2" ry="46.2" fill="#fff" stroke="#111" stroke-width="1.6" transform="rotate(-12 1250.9 278.9)"/>
<ellipse cx="1250.9" cy="278.9" rx="26.7" ry="43.7" fill="none" stroke="#111" stroke-width="1.3" transform="rotate(-12 1250.9 278.9)"/>
<ellipse cx="1250.9" cy="278.9" rx="23.7" ry="38.5" fill="none" stroke="#111" stroke-width="1.8" transform="rotate(-12 1250.9 278.9)"/>
<ellipse cx="1250.9" cy="278.9" rx="18.5" ry="33.3" fill="none" stroke="#111" stroke-width="1.3" transform="rotate(-12 1250.9 278.9)"/>
<ellipse cx="1250.9" cy="278.9" rx="15.5" ry="28.1" fill="none" stroke="#111" stroke-width="1.6" transform="rotate(-12 1250.9 278.9)"/>
<ellipse cx="1250.9" cy="278.9" rx="8.1" ry="14.8" fill="none" stroke="#111" stroke-width="1.3" transform="rotate(-12 1250.9 278.9)"/>
<ellipse cx="1374.8" cy="238.1" rx="35.5" ry="53.3" fill="#fff" stroke="#111" stroke-width="1.3" transform="rotate(-12 1374.8 238.1)"/>
<path d="M1362.9,192.2 L1383.7,190.7 L1392.5,196.6 L1413.3,212.9 L1422.2,241.1 L1416.2,272.2 L1410.3,284 L1398.5,291.4 L1383.7,294.4 Z" fill="#fff" stroke="#111" stroke-width="1.3" />
<defs><pattern id="fanp" patternUnits="userSpaceOnUse" width="4" height="4" patternTransform="rotate(80)"><rect width="4" height="1.6" fill="#111"/></pattern></defs>
<ellipse cx="1382.2" cy="242.5" rx="34.1" ry="48.9" transform="rotate(-12 1382.2 242.5)" fill="url(#fanp)" stroke="#111" stroke-width="1.3"/>
<ellipse cx="1368.8" cy="242.8" rx="28.9" ry="54.1" fill="#fff" stroke="#111" stroke-width="2.4" transform="rotate(-12 1368.8 242.8)"/>
<ellipse cx="1374.8" cy="238.8" rx="33.8" ry="51.1" fill="none" stroke="#111" stroke-width="4.5" transform="rotate(-12 1374.8 238.8)" stroke-dasharray="2.2 1.8"/>
<ellipse cx="1368.1" cy="243.3" rx="23.7" ry="45.9" fill="none" stroke="#111" stroke-width="1.4" transform="rotate(-12 1368.1 243.3)"/>
<ellipse cx="1367.4" cy="245.5" rx="16.3" ry="32.6" fill="none" stroke="#111" stroke-width="1.3" transform="rotate(-12 1367.4 245.5)"/>
<ellipse cx="1368.1" cy="247" rx="8.9" ry="16.3" fill="none" stroke="#111" stroke-width="1.6" transform="rotate(-12 1368.1 247)"/>
<path d="M1294.8,261.1 L1339.2,249.9 L1339.2,261.8 L1294.8,270.7 Z" fill="#fff" stroke="#111" stroke-width="1.3" />
<path d="M1339.2,247 L1362.9,241.1 L1362.9,255.9 L1339.2,261.1 Z" fill="#fff" stroke="#111" stroke-width="1.3" />
<ellipse cx="1294.8" cy="265.8" rx="2.7" ry="4.9" fill="#fff" stroke="#111" stroke-width="1.4" transform="rotate(-14 1294.8 265.8)"/>
<path d="M1306.7,258.1 L1308.9,268.5" fill="none" stroke="#111" stroke-width="1.3" />
<path d="M1328.9,252.6 L1331.1,263.3" fill="none" stroke="#111" stroke-width="1.3" />
<path d="M1333.3,251.4 L1335.5,262.2" fill="none" stroke="#111" stroke-width="1.3" />
<path d="M1408.8,197.4 L1511,172.2 L1522.9,177.4 L1531.7,201.1 L1531.7,230.7 L1422.2,262.5 L1422.2,230.7 Z" fill="#fff" stroke="#111" stroke-width="1.4" />
<ellipse cx="1414.8" cy="230" rx="9.6" ry="33.3" fill="#fff" stroke="#111" stroke-width="1.4" transform="rotate(-8 1414.8 230)"/>
<path d="M1420.7,201.1 L1516.9,177.4" fill="none" stroke="#111" stroke-width="1.8" />
<path d="M1429.6,211.4 L1530.3,192.2" fill="none" stroke="#111" stroke-width="1.8" />
<path d="M1437,227.7 L1531.7,210" fill="none" stroke="#111" stroke-width="1.8" />
<path d="M1439.9,244 L1531.7,226.3" fill="none" stroke="#111" stroke-width="1.8" />
<path d="M1434,258.8 L1530.3,233.7" fill="none" stroke="#111" stroke-width="1.8" />
<ellipse cx="1431" cy="210" rx="3.3" ry="2.7" fill="none" stroke="#111" stroke-width="1.2"/>
<ellipse cx="1435.5" cy="224.8" rx="3.3" ry="2.7" fill="none" stroke="#111" stroke-width="1.2"/>
<ellipse cx="1439.9" cy="239.6" rx="3.3" ry="2.7" fill="none" stroke="#111" stroke-width="1.2"/>
<ellipse cx="1435.5" cy="251.4" rx="3.3" ry="2.7" fill="none" stroke="#111" stroke-width="1.2"/>
<ellipse cx="1419.2" cy="199.6" rx="3.3" ry="2.7" fill="none" stroke="#111" stroke-width="1.2"/>
<path d="M1524.3,174.4 L1540.6,167.8 L1576.2,161.8 L1589.5,174.4 L1591,198.1 L1589.5,212.9 L1552.5,224.8 L1540.6,224.8 Z" fill="#fff" stroke="#111" stroke-width="1.4" />
<defs><pattern id="comm" patternUnits="userSpaceOnUse" width="4.2" height="4.2" patternTransform="rotate(-10)"><rect width="4.2" height="1.7" fill="#111"/></pattern></defs>
<path d="M1546.5,170 L1576.2,163.3 L1588,174.4 L1589.5,210 L1555.4,223.3 Z" fill="url(#comm)" stroke="#111" stroke-width="1.2"/>
<ellipse cx="1531.7" cy="197.4" rx="8.1" ry="28.1" fill="#fff" stroke="#111" stroke-width="1.6" transform="rotate(-8 1531.7 197.4)"/>
<ellipse cx="1552.5" cy="195.9" rx="6.7" ry="27.4" fill="none" stroke="#111" stroke-width="2.2" transform="rotate(-8 1552.5 195.9)"/>
<path d="M1589.5,178.9 L1601.3,175.9 L1603.6,181.1 L1601.3,185.5 L1590.2,187.8 Z" fill="#fff" stroke="#111" stroke-width="1.3" />
<ellipse cx="1636.3" cy="170.3" rx="10.1" ry="17.4" fill="#fff" stroke="#111" stroke-width="1.4" transform="rotate(-12 1636.3 170.3)"/>
<path d="M1626.2,154.1 L1632.9,152.9" fill="none" stroke="#111" stroke-width="1.3" />
<path d="M1634.1,187.1 L1639,186.5" fill="none" stroke="#111" stroke-width="1.3" />
<ellipse cx="1627.3" cy="172.1" rx="10.4" ry="17.4" fill="#fff" stroke="#111" stroke-width="1.8" transform="rotate(-12 1627.3 172.1)"/>
<ellipse cx="1627.6" cy="172.4" rx="4.1" ry="7" fill="none" stroke="#111" stroke-width="1.8" transform="rotate(-12 1627.6 172.4)"/>
<ellipse cx="1677.7" cy="159" rx="10.7" ry="19.5" fill="#fff" stroke="#111" stroke-width="1.4" transform="rotate(-12 1677.7 159)"/>
<path d="M1686.6,145.6 L1688.4,148.7 L1691.5,162.7 L1688.4,167.6" fill="none" stroke="#111" stroke-width="1.3" />
<ellipse cx="1667.7" cy="160.9" rx="11.6" ry="19.5" fill="#fff" stroke="#111" stroke-width="1.9" transform="rotate(-12 1667.7 160.9)"/>
<path d="M1665.9,147.4 L1669.5,146.8 L1679.3,168.8 L1677.4,174.9 L1672.6,174.9 L1670.1,168.8 L1665.9,162.7 Z" fill="#fff" stroke="#111" stroke-width="1.6" />
<path d="M1668.3,148 L1676.2,173" fill="none" stroke="#111" stroke-width="2.2" />
<ellipse cx="1717.4" cy="147.4" rx="10.7" ry="14" fill="#fff" stroke="#111" stroke-width="1.4" transform="rotate(-12 1717.4 147.4)"/>
<ellipse cx="1712.8" cy="148" rx="6.1" ry="7.9" fill="#fff" stroke="#111" stroke-width="2.0" transform="rotate(-12 1712.8 148)"/>
<ellipse cx="1705.8" cy="150.2" rx="3.4" ry="6.7" fill="#fff" stroke="#111" stroke-width="2.4" transform="rotate(-12 1705.8 150.2)"/>
<path d="M632.3,980.8 C633.6,967.8 634.8,955.9 642,948.4 C649.3,940.8 664.3,935 675.8,935.4 C687.2,935.8 700.6,945.5 710.8,951 C720.9,956.4 731,961.5 736.7,967.8 C742.4,974.1 743.3,974.5 745.1,988.6 C747,1002.6 748.3,1037.4 747.7,1052.1 C747.2,1066.8 748.5,1070 741.9,1076.7 C735.3,1083.4 722,1092.7 708.2,1092.3 C694.4,1091.9 671.2,1085.2 658.9,1074.2 C646.6,1063.1 638.7,1041.7 634.3,1026.2 C629.8,1010.6 631,993.7 632.3,980.8 Z" fill="#fff" stroke="#111" stroke-width="1.4"/>
<ellipse cx="675.1" cy="1019.7" rx="42.8" ry="75.9" fill="none" stroke="#111" stroke-width="1.4" transform="rotate(-14 675.1 1019.7)"/>
<ellipse cx="685.5" cy="1020.3" rx="30.5" ry="63.5" fill="none" stroke="#111" stroke-width="1.3" transform="rotate(-14 685.5 1020.3)"/>
<ellipse cx="688.7" cy="1017.1" rx="22.7" ry="57.1" fill="none" stroke="#111" stroke-width="1.3" transform="rotate(-14 688.7 1017.1)"/>
<path d="M647.9,943.2 L697.8,962.6 L718.6,993.7 L717.3,1078" fill="none" stroke="#111" stroke-width="1.3" />
<path d="M692.6,980.8 L703,979.5 L710.8,993.7 L709.5,1027.5 L705.6,1027.5" fill="none" stroke="#111" stroke-width="1.3" />
<path d="M669.3,1063.8 L687.4,1062.5 L688.7,1071.6 L675.8,1074.2 L669.3,1071.6" fill="none" stroke="#111" stroke-width="1.3" />
<path d="M649.8,1058.6 L661.5,1056 L665.4,1061.2 L652.4,1063.8" fill="none" stroke="#111" stroke-width="1.3" />
<path d="M643.3,949.7 L656.3,947.1" fill="none" stroke="#111" stroke-width="1.3" />
<path d="M643.3,954.8 L656.3,952.2" fill="none" stroke="#111" stroke-width="1.3" />
<ellipse cx="811.3" cy="980.8" rx="38.9" ry="67.4" fill="#fff" stroke="#111" stroke-width="1.5" transform="rotate(-18 811.3 980.8)"/>
<path d="M819.7,917.9 L857.3,908.8 L866.4,909.5 L874.2,914.6 L875.5,919.8 L857.3,928.9 L856,932.8 L867.7,952.2 L871.6,979.5 L871.6,1019.7 L874.2,1021 L870.3,1023.6 L859.9,1026.2 L850.8,1019.7" fill="none" stroke="#111" stroke-width="1.3" />
<ellipse cx="811.3" cy="980.8" rx="37" ry="64.8" fill="none" stroke="#111" stroke-width="1.2" transform="rotate(-18 811.3 980.8)"/>
<ellipse cx="819.7" cy="979.5" rx="27.2" ry="54.5" fill="none" stroke="#111" stroke-width="1.3" transform="rotate(-18 819.7 979.5)"/>
<ellipse cx="828.8" cy="975.6" rx="17.5" ry="35" fill="none" stroke="#111" stroke-width="1.4" transform="rotate(-18 828.8 975.6)"/>
<path d="M846.9,988.6 L861.2,987.3 L861.2,1006.7 L846.9,1009.3" fill="none" stroke="#111" stroke-width="1.3" />
<path d="M861.2,978.2 L871.6,979.5" fill="none" stroke="#111" stroke-width="1.3" />
<path d="M861.2,1006.7 L870.3,1006.7" fill="none" stroke="#111" stroke-width="1.3" />
<ellipse cx="859.9" cy="914.6" rx="3.9" ry="1.9" fill="none" stroke="#111" stroke-width="1.3"/>
<g stroke="#111" fill="none" stroke-width="1.2">
<line x1="1039.7" y1="867.9" x2="1197.6" y2="823.8"/>
<line x1="1043.1" y1="871.3" x2="1197.6" y2="827.2"/>
<line x1="1092.3" y1="935.9" x2="1160.3" y2="915.5"/>
<line x1="1092.3" y1="939.3" x2="1160.3" y2="918.9"/>
<line x1="1060.1" y1="956.3" x2="1243.5" y2="905.3"/>
<line x1="1060.1" y1="958.8" x2="1243.5" y2="908.7"/>
</g>
<defs><pattern id="wirep" patternUnits="userSpaceOnUse" width="3" height="3"><rect width="1.6" height="3" fill="#111"/></pattern></defs>
<path d="M1044.8,872.2 L1151.8,845 L1153.5,851 L1046.5,877.3 Z" fill="url(#wirep)" stroke="#111" stroke-width="1.1" />
<rect x="1211.2" y="813.6" width="13.6" height="11.9" fill="#fff" stroke="#111" stroke-width="1.3" transform="rotate(-15 1218 819.5)"/>
<line x1="1218" y1="813.6" x2="1218" y2="825.5" stroke="#111" stroke-width="1.1"/>
<rect x="1165.4" y="838.2" width="13.6" height="10.2" fill="#fff" stroke="#111" stroke-width="1.3" transform="rotate(-15 1172.2 843.3)"/>
<line x1="1172.2" y1="838.2" x2="1172.2" y2="848.4" stroke="#111" stroke-width="1.1"/>
<rect x="1138.2" y="842.5" width="11.9" height="8.5" fill="#fff" stroke="#111" stroke-width="1.3" transform="rotate(-15 1144.1 846.7)"/>
<line x1="1144.1" y1="842.5" x2="1144.1" y2="851" stroke="#111" stroke-width="1.1"/>
<rect x="1162" y="908.7" width="13.6" height="11.9" fill="#fff" stroke="#111" stroke-width="1.3" transform="rotate(-15 1168.8 914.7)"/>
<line x1="1168.8" y1="908.7" x2="1168.8" y2="920.6" stroke="#111" stroke-width="1.1"/>
<rect x="1250.3" y="895.1" width="13.6" height="11.9" fill="#fff" stroke="#111" stroke-width="1.3" transform="rotate(-15 1257.1 901.1)"/>
<line x1="1257.1" y1="895.1" x2="1257.1" y2="907" stroke="#111" stroke-width="1.1"/>
<path d="M1043.1,874.7 C1047,875.6 1059.5,876.4 1066.9,879.8 C1074.2,883.2 1083,888.6 1087.2,895.1 C1091.5,901.6 1092,910.4 1092.3,918.9 C1092.6,927.4 1091.8,940.4 1088.9,946.1 C1086.1,951.7 1080.2,951.2 1075.3,952.9 C1070.5,954.6 1062.6,955.7 1060.1,956.3" fill="none" stroke="#111" stroke-width="1.3"/>
<path d="M1043.1,874.7 L1066.9,879.8 L1087.2,895.1 L1092.3,918.9 L1088.9,946.1 L1075.3,952.9 L1060.1,956.3 L1056.7,918.9 Z" fill="#fff" stroke="#111" stroke-width="0" />
<path d="M1043.1,874.7 C1047,875.6 1059.5,876.4 1066.9,879.8 C1074.2,883.2 1083,888.6 1087.2,895.1 C1091.5,901.6 1092,910.4 1092.3,918.9 C1092.6,927.4 1091.8,940.4 1088.9,946.1 C1086.1,951.7 1080.2,951.2 1075.3,952.9 C1070.5,954.6 1062.6,955.7 1060.1,956.3" fill="none" stroke="#111" stroke-width="1.3"/>
<path d="M925.9,890 L1024.4,865.4 L1043.1,873 L1056.7,888.3 L1060.1,918.9 L1058.4,971.6 L968.3,993.6 L936.1,980.1 Z" fill="#fff" stroke="#111" stroke-width="1.4" />
<path d="M947.9,896.8 L1032.9,874.7" fill="none" stroke="#111" stroke-width="1.3" />
<path d="M961.5,901.9 L1049.9,883.2" fill="none" stroke="#111" stroke-width="1.3" />
<path d="M968.3,917.2 L1056.7,895.1" fill="none" stroke="#111" stroke-width="1.3" />
<path d="M971.7,941 L1058.4,918.9" fill="none" stroke="#111" stroke-width="1.3" />
<path d="M973.4,956.3 L1058.4,944.4" fill="none" stroke="#111" stroke-width="1.3" />
<path d="M971.7,973.3 L1058.4,952.9" fill="none" stroke="#111" stroke-width="1.3" />
<path d="M971.7,986.9 L1058.4,966.5" fill="none" stroke="#111" stroke-width="1.3" />
<path d="M968.3,917.2 L1056.7,895.1" fill="none" stroke="#111" stroke-width="2.2" />
<path d="M971.7,941 L1058.4,918.9" fill="none" stroke="#111" stroke-width="2.2" />
<path d="M891.9,918.9 L900.4,907 L931,900.2 L936.1,901.9 L936.1,980.1 L905.5,973.3 L893.6,961.4 L891,935.9 Z" fill="#fff" stroke="#111" stroke-width="1.4" />
<ellipse cx="943.7" cy="944.4" rx="24.6" ry="49.3" fill="#fff" stroke="#111" stroke-width="1.5" transform="rotate(-12 943.7 944.4)"/>
<ellipse cx="947.1" cy="946.1" rx="17.8" ry="42.5" fill="none" stroke="#111" stroke-width="1.3" transform="rotate(-12 947.1 946.1)"/>
<path d="M939.5,918.9 C941.7,917.5 948.8,909.8 953,910.4 C957.3,911 962.7,915.2 964.9,922.3 C967.2,929.4 967.5,941.6 966.6,952.9 C965.8,964.2 964.1,983.5 959.8,990.2 C955.6,997 944.8,997 941.2,993.6 C937.5,990.2 938.3,973.8 937.8,969.9" fill="none" stroke="#111" stroke-width="1.3"/>
<path d="M925.9,890 L968.3,895.1 L968.3,993.6" fill="none" stroke="#111" stroke-width="1.3" />
<path d="M1355.8,762.7 L1451.9,736.3 L1493,727.4 L1524.1,740.4 L1534.6,763.5 L1538.8,795 L1537.2,821.3 L1532.5,836.9 L1508.7,854.8 L1371.5,888.2 L1348,911.7 L1328.4,896 L1299,837.2 L1308.8,778.4 Z" fill="#fff" stroke="#111" stroke-width="1.4" />
<ellipse cx="1307.2" cy="836.2" rx="42.1" ry="79.4" fill="#fff" stroke="#111" stroke-width="1.6" transform="rotate(-15 1307.2 836.2)"/>
<ellipse cx="1310.8" cy="837.2" rx="36.3" ry="73.5" fill="none" stroke="#111" stroke-width="1.3" transform="rotate(-15 1310.8 837.2)"/>
<ellipse cx="1316.6" cy="841.1" rx="26.5" ry="62.7" fill="none" stroke="#111" stroke-width="1.6" transform="rotate(-15 1316.6 841.1)"/>
<path d="M1408.8,837.2 L1530.3,803.9" fill="none" stroke="#111" stroke-width="1.3" />
<path d="M1377.4,882.3 L1555.8,813.7" fill="none" stroke="#111" stroke-width="1.3" />
<path d="M1361.7,760.8 L1397,784.3 L1426.4,788.2" fill="none" stroke="#111" stroke-width="1.3" />
<path d="M1397,752.9 L1422.5,778.4 L1455.8,780.4" fill="none" stroke="#111" stroke-width="1.3" />
<path d="M1418.6,745.1 L1453.8,768.6 L1487.2,772.5" fill="none" stroke="#111" stroke-width="1.3" />
<path d="M1308.8,756.8 L1355.8,762.7 L1367.6,790.2" fill="none" stroke="#111" stroke-width="1.3" />
<path d="M1342.1,794.1 L1367.6,788.2" fill="none" stroke="#111" stroke-width="1.3" />
<path d="M1348,813.7 L1369.6,805.8" fill="none" stroke="#111" stroke-width="1.3" />
<path d="M1451.9,736.3 L1469.5,751 L1520.5,749" fill="none" stroke="#111" stroke-width="1.3" />
<path d="M1357.8,849 L1371.5,829.4 L1399,819.6 L1406.8,825.4 L1408.8,841.1 L1402.9,862.7 L1367.6,878.4 L1359.8,872.5 Z" fill="none" stroke="#111" stroke-width="1.4" />
<path d="M1367.6,845 L1393.1,839.2 L1395,854.8 L1369.6,862.7 Z" fill="none" stroke="#111" stroke-width="1.2" />
<path d="M1369.6,847 L1391.1,842.1 L1392.1,849 L1370.5,854.8 Z" fill="#555" stroke="#111" stroke-width="0" />
<defs><pattern id="vhatch" patternUnits="userSpaceOnUse" width="3.4" height="3.4"><rect width="1.5" height="3.4" fill="#111"/></pattern></defs>
<path d="M1538.8,821.3 L1555.6,811.8 L1637.5,787.7 L1641.7,776.1 L1673.2,757.2 L1672.2,754.1 L1658.5,755.1 L1648,757.2 L1619.7,767.7 L1600.8,769.8 L1559.8,790.8 L1538.8,792.9 Z" fill="#fff" stroke="#111" stroke-width="1.4" />
<path d="M1559.8,802.4 L1633.3,784.5" fill="none" stroke="#111" stroke-width="1.3" />
<path d="M1557.7,791.9 L1557.7,811.8" fill="none" stroke="#111" stroke-width="1.3" />
<path d="M1538.8,795 L1557.7,791.9" fill="none" stroke="#111" stroke-width="1.3" />
<rect x="1482.1" y="732" width="13.7" height="14.7" fill="#fff" stroke="#111" stroke-width="1.4"/>
<line x1="1485.1" y1="734" x2="1485.1" y2="744.7" stroke="#111" stroke-width="1.2"/>
<rect x="1505.2" y="727.8" width="11.6" height="15.8" fill="#fff" stroke="#111" stroke-width="1.4"/>
<line x1="1508.2" y1="729.8" x2="1508.2" y2="741.6" stroke="#111" stroke-width="1.2"/>
<rect x="1570.3" y="732" width="7.4" height="12.6" fill="#fff" stroke="#111" stroke-width="1.4"/>
<line x1="1573.3" y1="734" x2="1573.3" y2="742.6" stroke="#111" stroke-width="1.2"/>
<rect x="1578.7" y="736.2" width="6.3" height="10.5" fill="#fff" stroke="#111" stroke-width="1.4"/>
<line x1="1581.7" y1="738.2" x2="1581.7" y2="744.7" stroke="#111" stroke-width="1.2"/>
<path d="M1536.7,765.6 L1538.8,740.4 L1547.2,732 L1555.6,731 L1563,735.2 L1566.1,762.5 L1553.5,767.7 Z" fill="#fff" stroke="#111" stroke-width="1.4" />
<path d="M1540.9,744.6 L1547.2,742.5 L1548.3,761.4 L1542,763.5 Z" fill="url(#vhatch)" stroke="#111" stroke-width="1.2" />
<path d="M1553.5,739.4 L1555.6,763.5" fill="none" stroke="#111" stroke-width="1.3" />
<path d="M1559.8,737.3 L1561.9,762.5" fill="none" stroke="#111" stroke-width="1.3" />
<path d="M1575.6,753 L1585,749.9 L1593.4,750.9 L1600.8,757.2 L1601.8,780.3 L1576.6,782.4 Z" fill="#fff" stroke="#111" stroke-width="1.4" />
<path d="M1578.7,752 L1579.8,781.4" fill="none" stroke="#111" stroke-width="1.3" />
<path d="M1593.4,753 L1594.5,780.3" fill="none" stroke="#111" stroke-width="1.3" />
<path d="M1586.1,774 L1591.3,773 L1591.3,780.3" fill="none" stroke="#111" stroke-width="1.3" />
<path d="M1597.6,734.1 L1606,731 L1607.1,723.6 L1616.5,722.6 L1618.6,716.3 L1635.4,713.1 L1637.5,724.7 L1643.8,725.7 L1650.1,720.5 L1657.5,721.5 L1658.5,755.1 L1648,757.2 L1620.7,763.5 L1597.6,750.9 Z" fill="#fff" stroke="#111" stroke-width="1.4" />
<path d="M1607.1,724.7 L1616.5,723.6 L1619.7,717.3 L1634.4,714.7 L1636.5,734.1 L1627,738.3 L1609.2,739.4 Z" fill="url(#vhatch)" stroke="#111" stroke-width="1.2" />
<path d="M1641.7,727.8 L1648,725.7 L1649.1,755.1 L1642.8,757.2 Z" fill="url(#vhatch)" stroke="#111" stroke-width="1.2" />
<path d="M1620.7,748.8 L1621.8,763.5" fill="none" stroke="#111" stroke-width="1.3" />
<path d="M1627,739.4 L1629.1,763.5" fill="none" stroke="#111" stroke-width="1.3" />
<path d="M1597.6,750.9 L1619.7,762.5" fill="none" stroke="#111" stroke-width="1.3" />
<ellipse cx="1632.3" cy="763.5" rx="5.3" ry="2.6" fill="none" stroke="#111" stroke-width="1.3"/>
<path d="M1514.7,753 C1516.2,756.5 1521.8,765.3 1524.1,774 C1526.4,782.8 1528,796.8 1528.3,805.5 C1528.7,814.3 1527.6,820.6 1526.2,826.5 C1524.8,832.5 1521,838.8 1519.9,841.2" fill="none" stroke="#111" stroke-width="1.5"/>
<path d="M1480,752 L1514.7,753" fill="none" stroke="#111" stroke-width="1.3" />
<path d="M1307,941 L1341,937 L1388,964.7 L1362,974 L1341,970 Z" fill="#fff" stroke="#111" stroke-width="1.3" />
<path d="M1475.3,628.2 L1488.8,617.6 L1504.1,622.3 L1513.5,625.3 L1514.1,651.7 L1505.3,649.4 L1491.2,651.7 L1480.6,653.5 L1472.3,649.4 L1475.3,635.3 Z" fill="#fff" stroke="#111" stroke-width="1.4" />
<path d="M1477,631.7 C1475.1,632.3 1467.8,633.5 1465.3,635.3 C1462.7,637 1461.4,640.2 1461.8,642.3 C1462.2,644.5 1465.5,647 1467.6,648.2 C1469.8,649.4 1473.5,649.2 1474.7,649.4" fill="none" stroke="#111" stroke-width="1.4"/>
<path d="M1475.3,628.2 L1504.1,624.7 L1505.3,649.4" fill="none" stroke="#111" stroke-width="1.3" />
<path d="M1504.1,624.7 L1513.5,627" fill="none" stroke="#111" stroke-width="1.3" />
<path d="M1477,635.3 L1502.9,631.7" fill="none" stroke="#111" stroke-width="1.3" />
<path d="M1488.8,617.6 L1488.8,630.6" fill="none" stroke="#111" stroke-width="1.3" />
<ellipse cx="1485.3" cy="628.2" rx="4.1" ry="2.9" fill="none" stroke="#111" stroke-width="1.3"/>
<path d="M1477,673.5 L1495.9,667.6 L1502.3,670.6 L1502.3,692.3 L1484.1,697.6 L1477.6,694.1 Z" fill="#fff" stroke="#111" stroke-width="1.3" />
<path d="M1477,673.5 L1484.1,675.3 L1502.3,670.6" fill="none" stroke="#111" stroke-width="1.3" />
<path d="M1484.1,675.3 L1484.1,697.6" fill="none" stroke="#111" stroke-width="1.3" />
<path d="M1534.1,625.3 L1564.7,615.9 L1597.6,631.7 L1597.6,674.1 L1567.6,683.5 L1565.8,684.7 L1555.8,684.1 L1550,682.3 L1539.4,675.3 L1533.5,670.6 L1534.1,649.4 Z" fill="#fff" stroke="#111" stroke-width="1.4" />
<path d="M1534.1,625.3 L1565.8,644.1 L1597.6,631.7" fill="none" stroke="#111" stroke-width="1.3" />
<path d="M1565.8,644.1 L1567.6,683.5" fill="none" stroke="#111" stroke-width="1.3" />
<path d="M1546.4,628.2 L1562.9,622.9 L1568.8,626.5 L1552.3,631.7 Z" fill="none" stroke="#111" stroke-width="1.3" />
<path d="M1561.7,637.6 L1577,632.3 L1582.9,635.3 L1565.2,640.6 Z" fill="none" stroke="#111" stroke-width="1.3" />
<path d="M1547.6,635.3 L1547.6,682.3" fill="none" stroke="#111" stroke-width="1.8" />
<path d="M1553.5,635.3 L1553.5,682.3" fill="none" stroke="#111" stroke-width="1.8" />
<path d="M1559.4,635.3 L1559.4,682.3" fill="none" stroke="#111" stroke-width="1.8" />
<path d="M1562.9,635.3 L1562.9,682.3" fill="none" stroke="#111" stroke-width="1.8" />
<path d="M1577,644.7 L1581.1,643.5 L1581.7,678.8 L1577.6,680 Z" fill="#222" stroke="#111" stroke-width="1" />
<path d="M1585.2,642.3 L1593.5,640.6 L1593.5,658.8 L1589.9,661.1 L1585.2,651.7 Z" fill="#222" stroke="#111" stroke-width="1" />
<path d="M1537,655.3 C1536.4,656.2 1533.9,658.6 1533.5,661.1 C1533.1,663.7 1533.5,668.2 1534.7,670.6 C1535.8,672.9 1539.2,676 1540.5,675.3 C1541.9,674.5 1542.5,667.4 1542.9,665.9" fill="none" stroke="#111" stroke-width="1.5"/>
<path d="M1619.9,648.2 L1633.4,647.6 L1638.1,645.3 L1649.9,646.4 L1654,649.4 L1653.4,666.4 L1642.9,671.1 L1638.1,669.4 L1637,663.5 L1631.7,660 L1625.2,661.1 L1620.5,660.6 Z" fill="#fff" stroke="#111" stroke-width="1.4" />
<path d="M1633.4,647.6 L1638.1,650 L1654,649.4" fill="none" stroke="#111" stroke-width="1.3" />
<path d="M1638.1,650 L1638.1,669.4" fill="none" stroke="#111" stroke-width="1.3" />
<ellipse cx="1641.7" cy="648.2" rx="5.3" ry="2.4" fill="none" stroke="#111" stroke-width="1.3"/>
<path d="M1635,577 L1635,619 A6.5,2.2 0 0 0 1648,619 L1648,577" fill="#fff" stroke="#111" stroke-width="1.3"/>
<ellipse cx="1641.5" cy="577" rx="6.5" ry="2.2" fill="#fff" stroke="#111" stroke-width="1.3"/>
<rect x="1634.5" y="573" width="14" height="7" rx="2" fill="#fff" stroke="#111" stroke-width="1.3"/>
<path d="M1641.5,574 L1641.5,579" fill="none" stroke="#111" stroke-width="1.3" />
<path d="M1699.6,666.6 L1885.5,616.3 L1897.3,617 L1918,626.7 L1929.9,637 L1935.8,648.9 L1938.8,674 L1937.3,696.3 L1926.9,715.5 L1897.3,739.2 L1878.1,743.6 L1867.7,745.1 L1749.2,780.7 L1738.9,784.4 L1721.1,783.6 L1706.3,770.3 L1698.9,759.9 L1699.6,740.7 L1707.8,725.9 L1721.1,700.7 L1722.6,678.5 L1704.8,668.1 Z" fill="#fff" stroke="#111" stroke-width="1.4" />
<path d="M1724.1,669.6 L1897.3,620.7" fill="none" stroke="#111" stroke-width="1.3" />
<path d="M1781.8,651.8 L1799.6,669.6 L1918,636.3" fill="none" stroke="#111" stroke-width="1.3" />
<path d="M1724.1,669.6 L1734.4,682.9 L1772.9,685.1 L1784.8,694.8 L1793.7,718.5 L1795.1,733.3" fill="none" stroke="#111" stroke-width="1.3" />
<path d="M1734.4,685.9 C1740.8,686.3 1765,684.7 1772.9,688.1 C1780.8,691.6 1779.6,699.6 1781.8,706.6 C1784,713.7 1787,723.6 1786.3,730.3 C1785.5,737 1781.1,741.9 1777.4,746.6 C1773.7,751.3 1770.2,752.3 1764,758.4 C1757.9,764.6 1744.3,779.4 1740.3,783.6" fill="none" stroke="#111" stroke-width="1.5"/>
<path d="M1809.9,685.9 L1924,654.8 L1925.5,662.2 L1916.6,694.8 L1820.3,727.4 L1817.4,703.7 Z" fill="none" stroke="#111" stroke-width="1.4" />
<path d="M1730.7,759.9 L1774.4,748.1 L1772.9,752.5 L1731.5,764.4 Z" fill="none" stroke="#111" stroke-width="1.3" />
<path d="M1738.9,715.5 C1740.1,719 1743.6,730.6 1746.3,736.2 C1749,741.9 1753.7,747.3 1755.2,749.6" fill="none" stroke="#111" stroke-width="1.3"/>
<path d="M1753.7,690.3 C1754.2,694.5 1753.9,706.1 1756.6,715.5 C1759.4,724.9 1767.7,741.4 1770,746.6" fill="none" stroke="#111" stroke-width="1.3"/>
<path d="M1918,626.7 C1919.5,627.1 1924.5,626.7 1926.9,629.6 C1929.4,632.6 1931.9,642 1932.9,644.4" fill="none" stroke="#111" stroke-width="1.3"/>
<path d="M1722.6,678.5 L1724.1,696.3 L1721.1,700.7" fill="none" stroke="#111" stroke-width="2.2" />
<path d="M1982.5,620.7 L1990.6,617 L1995,626.7 L2001,638.5 L2015.8,630.4 L2017.3,632.6 L2008.4,662.2 L1993.6,684.4 L1987.6,685.1 L1966.2,671.1 L1973.6,651.8 L1974.3,641.5 L1981.7,634.1 Z" fill="#fff" stroke="#111" stroke-width="1.4" />
<path d="M1975.8,642.9 L1999.5,638.5 L2001,662.2 L1992.1,665.2 L1977.3,662.2 Z" fill="none" stroke="#111" stroke-width="1.3" />
<ellipse cx="1984.7" cy="653.3" rx="3.7" ry="5.9" fill="none" stroke="#111" stroke-width="1.3"/>
<path d="M1982.5,620.7 L1986.2,637 L1995,644.4" fill="none" stroke="#111" stroke-width="1.3" />
<path d="M2005.4,634.1 L1996.5,666.6 L1989.1,682.9" fill="none" stroke="#111" stroke-width="1.8" />
<path d="M1969.9,669.6 L1989.1,680" fill="none" stroke="#111" stroke-width="2" />
<path d="M2039.7,635.3 L2070,624.7 L2073,634.6 L2041.2,642.9 Z" fill="#fff" stroke="#111" stroke-width="1.3" />
<ellipse cx="2074.1" cy="628.8" rx="5.8" ry="7.3" fill="#fff" stroke="#111" stroke-width="1.4"/>
<ellipse cx="2038.9" cy="639.1" rx="2.1" ry="3.8" fill="#fff" stroke="#111" stroke-width="1.2"/>
<ellipse cx="2125.8" cy="933.6" rx="154.5" ry="55" fill="none" stroke="#111" stroke-width="12.5"/>
<ellipse cx="2125.8" cy="933.6" rx="154.5" ry="55" fill="none" stroke="#fff" stroke-width="8.6"/>
<ellipse cx="2125.8" cy="914" rx="154.5" ry="55" fill="none" stroke="#111" stroke-width="12.5"/>
<ellipse cx="2125.8" cy="914" rx="154.5" ry="55" fill="none" stroke="#fff" stroke-width="8.6"/>
<ellipse cx="2125.8" cy="894.4" rx="154.5" ry="55" fill="none" stroke="#111" stroke-width="12.5"/>
<ellipse cx="2125.8" cy="894.4" rx="154.5" ry="55" fill="none" stroke="#fff" stroke-width="8.6"/>
<path d="M2229,557 C2234.5,556.3 2250.2,553.2 2262,553 C2273.8,552.8 2288.2,553 2300,556 C2311.8,559 2324.3,563.7 2333,571 C2341.7,578.3 2347.3,588.5 2352,600 C2356.7,611.5 2359.5,625 2361,640 C2362.5,655 2362.7,668.3 2361,690 C2359.3,711.7 2355.8,748 2351,770 C2346.2,792 2340.5,804.3 2332,822 C2323.5,839.7 2308.8,863 2300,876 C2291.2,889 2282.5,896 2279,900" fill="none" stroke="#111" stroke-width="11.5" stroke-linecap="butt"/>
<path d="M2229,557 C2234.5,556.3 2250.2,553.2 2262,553 C2273.8,552.8 2288.2,553 2300,556 C2311.8,559 2324.3,563.7 2333,571 C2341.7,578.3 2347.3,588.5 2352,600 C2356.7,611.5 2359.5,625 2361,640 C2362.5,655 2362.7,668.3 2361,690 C2359.3,711.7 2355.8,748 2351,770 C2346.2,792 2340.5,804.3 2332,822 C2323.5,839.7 2308.8,863 2300,876 C2291.2,889 2282.5,896 2279,900" fill="none" stroke="#fff" stroke-width="7.8" stroke-linecap="butt"/>
<path d="M1880,979.5 C1887.5,978.2 1910.8,972.9 1925,971.5 C1939.2,970.1 1954.2,969.9 1965,971 C1975.8,972.1 1985.8,976.8 1990,978" fill="none" stroke="#111" stroke-width="11.5" stroke-linecap="butt"/>
<path d="M1880,979.5 C1887.5,978.2 1910.8,972.9 1925,971.5 C1939.2,970.1 1954.2,969.9 1965,971 C1975.8,972.1 1985.8,976.8 1990,978" fill="none" stroke="#fff" stroke-width="7.8" stroke-linecap="butt"/>
<path d="M2115.5,568.6 L2221.6,548.2 L2230.7,552.7 L2230.7,564.9 L2229.2,567.1 L2124.6,605.8 Z" fill="#fff" stroke="#111" stroke-width="1.4" />
<ellipse cx="2226.1" cy="558" rx="4.2" ry="9.9" fill="none" stroke="#111" stroke-width="1.3"/>
<ellipse cx="2123.1" cy="588.4" rx="10.6" ry="18.9" fill="#fff" stroke="#111" stroke-width="1.2"/>
<ellipse cx="2112.5" cy="589.9" rx="12.1" ry="22.7" fill="#fff" stroke="#111" stroke-width="1.3"/>
<ellipse cx="2104.1" cy="590.9" rx="12.9" ry="23" fill="#fff" stroke="#111" stroke-width="1.4"/>
<path d="M2092.7,587.6 L2104.9,583.8 L2109.4,596.7 L2095.8,601.2 Z" fill="#fff" stroke="#111" stroke-width="1.2" />
<ellipse cx="2092" cy="594.4" rx="3.8" ry="6.8" fill="#fff" stroke="#111" stroke-width="1.2"/>
<path d="M2071.5,596.7 L2091.2,592.9" fill="none" stroke="#111" stroke-width="1.6" />
<path d="M2072.3,605 L2091.2,600.5" fill="none" stroke="#111" stroke-width="1.6" />
<path d="M1793.2,845.6 L1798.1,843.9 L1821.3,851.4 L1844.5,863 L1848.6,866.3 L1847.8,874.5 L1842.8,876.2 L1834.5,871.2 L1803.1,859.7 L1793.2,859.7 Z" fill="#fff" stroke="#111" stroke-width="1.5" />
<path d="M1798.1,843.9 L1803.1,856.3 L1834.5,866.3 L1844.5,863" fill="none" stroke="#111" stroke-width="1.3" />
<path d="M1818,851.4 L1821.3,863" fill="none" stroke="#111" stroke-width="1.8" />
<path d="M1827.9,858 L1832.9,867.9" fill="none" stroke="#111" stroke-width="1.8" />
<path d="M1535.8,905.2 L1549.9,899.4 L1683.9,877.9 L1688.9,887.8 L1697.2,902.7 L1697.2,906 L1685.6,909.3 L1685.6,922.5 L1597.9,944.1 L1587.9,948.2 L1568.1,942.4 L1566.4,939.1 L1545.7,924.2 Z" fill="#fff" stroke="#111" stroke-width="1.4" />
<path d="M1535.8,905.2 L1587.9,935.8 L1697.2,905.2" fill="none" stroke="#111" stroke-width="1.3" />
<path d="M1587.9,935.8 L1587.9,948.2" fill="none" stroke="#111" stroke-width="1.3" />
<path d="M1549.9,909.3 L1586.3,929.2 L1685.6,906" fill="none" stroke="#111" stroke-width="1.3" />
<path d="M1597.9,935.8 L1597.9,944.1" fill="none" stroke="#111" stroke-width="1.3" />
<rect x="1584.6" y="874.5" width="9.9" height="21.5" rx="2" fill="#fff" stroke="#111" stroke-width="1.3"/>
<rect x="1640.9" y="844.8" width="14.1" height="39.7" rx="2" fill="#fff" stroke="#111" stroke-width="1.3"/>
<rect x="1662.4" y="857.2" width="13.2" height="38.9" rx="2" fill="#fff" stroke="#111" stroke-width="1.3"/>
<rect x="1618.5" y="892.8" width="8.3" height="23.2" rx="2" fill="#fff" stroke="#111" stroke-width="1.3"/>
<path d="M1639.2,872.9 L1655.8,869.6 L1657.4,887.8 L1644.2,889.4 Z" fill="#fff" stroke="#111" stroke-width="1.3" />
<path d="M1571.4,892.8 L1579.7,891.1 L1584.6,915.9 L1574.7,919.2 Z" fill="#fff" stroke="#111" stroke-width="1.6" />
<path d="M1592.9,902.7 L1616.1,899.4 L1617.7,912.6 L1594.5,915.9 Z" fill="url(#wirep)" stroke="#111" stroke-width="1.2" />
<path d="M1553.2,906 L1571.4,896.1" fill="none" stroke="#111" stroke-width="1.3" />
<path d="M1629.3,881.2 L1645.9,896.1" fill="none" stroke="#111" stroke-width="1.3" />
<rect x="1645.3" y="825" width="6" height="10" fill="#fff" stroke="#111" stroke-width="1.2"/>
<ellipse cx="1648.3" cy="823" rx="5.8" ry="4" fill="#fff" stroke="#111" stroke-width="1.3"/>
<path d="M1645.3,822 L1651.3,822" fill="none" stroke="#111" stroke-width="1.3" />
<path d="M1648.3,820 L1648.3,826" fill="none" stroke="#111" stroke-width="1.3" />
<rect x="1666.4" y="838" width="6" height="10" fill="#fff" stroke="#111" stroke-width="1.2"/>
<ellipse cx="1669.4" cy="836" rx="5.8" ry="4" fill="#fff" stroke="#111" stroke-width="1.3"/>
<path d="M1666.4,835 L1672.4,835" fill="none" stroke="#111" stroke-width="1.3" />
<path d="M1669.4,833 L1669.4,839" fill="none" stroke="#111" stroke-width="1.3" />
<path d="M1629.3,968.9 L1635.9,964.8 L1657.4,961.4 L1788.2,915.9 L1885.8,882.8 L1890.8,883.7 L1901.6,892.8 L1900.7,897.7 L1791.5,932.5 L1635.9,988.7 L1628.5,987.1 Z" fill="#fff" stroke="#111" stroke-width="1.4" />
<path d="M1662.4,965.6 L1789.8,924.2 L1885.8,892.8 L1899.1,894.4" fill="none" stroke="#111" stroke-width="1.3" />
<path d="M1662.4,975.5 L1789.8,932.5" fill="none" stroke="#111" stroke-width="1.3" />
<path d="M1788.2,915.9 L1791.5,932.5" fill="none" stroke="#111" stroke-width="1.3" />
<path d="M1639.2,968.9 L1657.4,964.8 L1660.8,980.5 L1640.9,984.6 Z" fill="none" stroke="#111" stroke-width="1.5" />
<path d="M1644.2,973.9 L1655.8,971.4 L1656.6,978.8 L1645,981.3 Z" fill="#333" stroke="#111" stroke-width="1" />
<path d="M1679,962.3 L1725.3,949 L1727,954 L1680.6,967.2 Z" fill="none" stroke="#111" stroke-width="1.3" />
<path d="M1818,912.6 L1877.6,899.4 L1879.2,902.7 L1821.3,915.9 Z" fill="none" stroke="#111" stroke-width="1.3" />
<path d="M1723.6,945.7 L1743.5,942.4 L1743.5,947.4 L1724.5,950.7 Z" fill="none" stroke="#111" stroke-width="1.5" />
<path d="M1685.6,992.1 C1689.7,989.4 1699.6,985.7 1705.4,984.6 C1711.2,983.5 1717,983.6 1720.3,985.4 C1723.6,987.2 1724.5,990.7 1725.3,995.4 C1726.1,1000.1 1727,1009.4 1725.3,1013.6 C1723.6,1017.7 1720.1,1018.3 1715.4,1020.2 C1710.7,1022.1 1701.9,1024.6 1697.2,1025.2 C1692.5,1025.7 1689.9,1025.2 1687.2,1023.5 C1684.6,1021.9 1682.5,1019.1 1681.4,1015.2 C1680.3,1011.4 1679.9,1004.2 1680.6,1000.3 C1681.3,996.5 1681.4,994.7 1685.6,992.1 Z" fill="#fff" stroke="#111" stroke-width="1.5"/>
<path d="M1688.9,1000.3 C1691.8,996.7 1701,992.3 1703.8,993.7 C1706.5,995.1 1705.4,1003.6 1705.4,1008.6 C1705.4,1013.6 1706.3,1020.7 1703.8,1023.5 C1701.3,1026.3 1693.4,1026.5 1690.5,1025.2 C1687.6,1023.8 1686.7,1019.4 1686.4,1015.2 C1686.1,1011.1 1686,1003.9 1688.9,1000.3 Z" fill="none" stroke="#111" stroke-width="1.3"/>
<path d="M1705.4,992.1 L1720.3,988.7 L1722,1016.9 L1707.1,1021.9 Z" fill="#333" stroke="#111" stroke-width="1.2" />
<path d="M1884,979.5 C1884,979.5 1884,979.5 1884,979.5" fill="none" stroke="#111" stroke-width="11.5" stroke-linecap="butt"/>
<path d="M1884,979.5 C1884,979.5 1884,979.5 1884,979.5" fill="none" stroke="#fff" stroke-width="7.8" stroke-linecap="butt"/>
<path d="M1832.9,980.5 L1870.9,969.7 L1882.5,970.5 L1884.2,990.4 L1870.9,993.7 L1834.5,1003.6 Z" fill="#fff" stroke="#111" stroke-width="1.4" />
<path d="M1859.4,973.9 L1861,993.7" fill="none" stroke="#111" stroke-width="1.8" />
<path d="M1864.3,973.9 L1866,993.7" fill="none" stroke="#111" stroke-width="1.8" />
<path d="M1869.3,973.9 L1870.9,993.7" fill="none" stroke="#111" stroke-width="1.8" />
<path d="M1874.3,973.9 L1875.9,993.7" fill="none" stroke="#111" stroke-width="1.8" />
<path d="M1879.2,973.9 L1880.9,993.7" fill="none" stroke="#111" stroke-width="1.8" />
<path d="M1803.1,985.4 C1805.8,981.3 1813.8,976.6 1818,975.5 C1822.1,974.4 1825.2,976.3 1827.9,978.8 C1830.7,981.3 1833.4,985.4 1834.5,990.4 C1835.6,995.4 1835.6,1003.6 1834.5,1008.6 C1833.4,1013.6 1831.2,1018 1827.9,1020.2 C1824.6,1022.4 1818.8,1023 1814.7,1021.9 C1810.5,1020.7 1805.3,1017.2 1803.1,1013.6 C1800.9,1010 1801.4,1005 1801.4,1000.3 C1801.4,995.6 1800.3,989.6 1803.1,985.4 Z" fill="#fff" stroke="#111" stroke-width="1.5"/>
<path d="M1788.2,995.4 L1804.7,992.1 L1805.6,1000.3 L1789,1002.8 Z" fill="#fff" stroke="#111" stroke-width="1.4" />
<path d="M1811.4,985.4 L1821.3,998.7 L1827.9,1008.6" fill="none" stroke="#111" stroke-width="1.3" />
<path d="M1804.7,1002 L1824.6,1005.3" fill="none" stroke="#111" stroke-width="1.3" />
<path d="M826.8,1254.7 L829.8,1252.7 L928.6,1251.2 C935.2,1252.8 956.6,1256.3 968.1,1260.6 C979.7,1265 990.5,1270.2 997.8,1277.4 C1005,1284.7 1009.2,1295.6 1011.6,1304.1 C1014.1,1312.7 1014.1,1320.6 1012.6,1328.8 C1011.1,1337.1 1008.5,1347 1002.7,1353.5 C997,1360.1 987.9,1364.1 978,1368.4 C968.1,1372.7 949.2,1377.4 943.4,1379.2 L942.4,1373.3 L941.4,1338.7 L928.6,1327.8 L913.8,1311 L899,1309.1 L869.3,1309.1 L849.5,1305.1 L832.7,1294.2 L826.8,1285.3 Z" fill="#fff" stroke="#111" stroke-width="1.4"/>
<path d="M836.7,1277.4 C836,1278.8 832.2,1282.1 832.7,1285.3 C833.2,1288.6 833.6,1293.6 839.7,1297.2 C845.7,1300.8 857.8,1305.3 869.3,1307.1 C880.8,1308.9 899.8,1305.8 908.8,1308.1 C917.9,1310.4 918.7,1316.2 923.7,1320.9 C928.6,1325.7 935.5,1330.5 938.5,1336.7 C941.4,1343 940.8,1351.7 941.4,1358.5 C942.1,1365.2 942.3,1374.1 942.4,1377.3" fill="none" stroke="#111" stroke-width="1.3"/>
<ellipse cx="885.1" cy="1262.1" rx="48.4" ry="19.3" fill="#fff" stroke="#111" stroke-width="1.6"/>
<ellipse cx="885.1" cy="1262.6" rx="45.5" ry="16.3" fill="none" stroke="#111" stroke-width="1.3"/>
<ellipse cx="886.1" cy="1275" rx="35.6" ry="7.1" fill="none" stroke="#111" stroke-width="1.8"/>
<path d="M826.8,1254.7 L837.7,1252.7 L842.6,1257.7 L836.7,1262.6 L836.7,1279.4" fill="none" stroke="#111" stroke-width="1.3" />
<rect x="849.5" y="1256.7" width="11.9" height="4.9" fill="none" stroke="#111" stroke-width="1.7"/>
<rect x="864.4" y="1250.8" width="7.9" height="7.9" fill="none" stroke="#111" stroke-width="1.7"/>
<rect x="883.1" y="1248.8" width="8.4" height="7.9" fill="none" stroke="#111" stroke-width="1.7"/>
<rect x="901.4" y="1250.8" width="8.4" height="8.9" fill="none" stroke="#111" stroke-width="1.7"/>
<rect x="917.2" y="1255.7" width="6.4" height="8.9" fill="none" stroke="#111" stroke-width="1.7"/>
<rect x="843.1" y="1278.4" width="9.4" height="8.9" fill="none" stroke="#111" stroke-width="1.7"/>
<rect x="901.4" y="1286.3" width="12.8" height="4.9" fill="none" stroke="#111" stroke-width="1.7"/>
<rect x="919.7" y="1280.4" width="5.4" height="6.9" fill="none" stroke="#111" stroke-width="1.7"/>
<path d="M846.7,1405 L846.7,1417.5 A40.1,14 0 0 0 926.9,1417.5 L926.9,1405" fill="#fff" stroke="#111" stroke-width="1.5"/>
<ellipse cx="886.8" cy="1405" rx="40.1" ry="14" fill="#fff" stroke="#111" stroke-width="1.5"/>
<ellipse cx="883" cy="1404.5" rx="30" ry="11" fill="none" stroke="#111" stroke-width="1.4"/>
<ellipse cx="884" cy="1405" rx="22" ry="8.5" fill="none" stroke="#111" stroke-width="1.4"/>
<ellipse cx="886.5" cy="1405" rx="12.9" ry="5.2" fill="none" stroke="#111" stroke-width="1.5"/>
<path d="M771,1499.3 L771,1511 A114.3,43.9 0 0 0 999.6,1511 L999.6,1499.3" fill="#fff" stroke="#111" stroke-width="1.3"/>
<ellipse cx="885.3" cy="1499.3" rx="114.3" ry="43.9" fill="#fff" stroke="#111" stroke-width="1.3"/>
<ellipse cx="885.3" cy="1502" rx="61.3" ry="24.2" fill="none" stroke="#111" stroke-width="1.3"/>
<ellipse cx="885.3" cy="1493.5" rx="43" ry="17.4" fill="none" stroke="#111" stroke-width="1.3"/>
<ellipse cx="885.3" cy="1492.5" rx="20.4" ry="7.6" fill="none" stroke="#111" stroke-width="1.3"/>
<path d="M865,1495 L905.6,1495" fill="none" stroke="#111" stroke-width="1.3" />
<path d="M846.7,1609 L846.7,1622 A38.6,13.5 0 0 0 923.9,1622 L923.9,1609" fill="#fff" stroke="#111" stroke-width="1.5"/>
<ellipse cx="885.3" cy="1609" rx="38.6" ry="13.5" fill="#fff" stroke="#111" stroke-width="1.5"/>
<ellipse cx="885.3" cy="1608.5" rx="28" ry="9.5" fill="none" stroke="#111" stroke-width="1.3"/>
<ellipse cx="885.3" cy="1609" rx="14" ry="5" fill="none" stroke="#111" stroke-width="1.6"/>
<circle cx="873" cy="1609" r="2.2" fill="none" stroke="#111" stroke-width="1.3"/><circle cx="897" cy="1609" r="2.2" fill="none" stroke="#111" stroke-width="1.3"/><rect x="881" y="1604" width="8" height="5" fill="#222"/>
<rect x="1732" y="1241.6" width="199.7" height="273.9" fill="#fff" stroke="#111" stroke-width="1.8"/>
<path d="M1738.4,1258 C1755,1264 1765,1274 1781.3,1273.6 C1805,1272 1815,1252 1838.4,1249.4 L1881.6,1247.7 C1900,1250 1915,1258 1923.1,1268.4 L1923.6,1503 C1915,1494 1905,1486 1881,1481.5 C1860,1480 1850,1482 1841.5,1484.4 C1828,1488 1820,1494 1813,1496 C1800,1502 1795,1508 1781.5,1508 C1765,1506 1752,1498 1738.5,1491.7 Z" fill="none" stroke="#111" stroke-width="1.4"/>
<path d="M1832,1273 L1852,1270 L1852,1275 M1868,1275 L1868,1270 L1890,1273 C1905,1282 1913,1300 1913.6,1318 C1913,1338 1905,1352 1890,1364 L1868,1367 L1868,1362 M1852,1362 L1852,1367 L1832,1364 C1817,1355 1807,1338 1807,1318 C1807,1300 1817,1282 1832,1273" fill="none" stroke="#111" stroke-width="1.4"/>
<path d="M1822,1294 C1835,1278 1885,1278 1898,1294 L1898,1340 C1885,1356 1835,1356 1822,1340 Z" fill="none" stroke="#111" stroke-width="1.3"/>
<path d="M1832,1300 C1845,1287 1875,1287 1888,1300 L1885,1302 C1872,1292 1848,1292 1835,1302 Z M1832,1338 C1845,1351 1875,1351 1888,1338 L1885,1336 C1872,1346 1848,1346 1835,1336 Z" fill="none" stroke="#111" stroke-width="1.4"/>
<circle cx="1860.9" cy="1318.6" r="20.5" fill="none" stroke="#111" stroke-width="1.5"/>
<rect x="1833.2" y="1310.8" width="6.5" height="14.7" fill="#111"/><rect x="1881.6" y="1310.8" width="6.5" height="14.7" fill="#111"/>
<g stroke="#111" stroke-width="4.2" fill="none"><path d="M1819.4,1331.6 L1819.4,1406.8"/><path d="M1901.5,1331.6 L1901.5,1463.5"/><path d="M1847,1406.8 L1847,1387.8 L1879.9,1387.8 L1879.9,1463.5"/></g>
<path d="M1749.3,1393 L1776.1,1392.1 L1779.6,1403.4 L1794.3,1403.4 L1794.3,1399.9 L1854.8,1399.9 L1854.8,1452.7 L1803.7,1452.7 L1802,1445 L1796,1442 L1794.3,1439.7 L1767.5,1439.7 L1764,1417.2 Z" fill="#fff" stroke="#111" stroke-width="1.5"/>
<circle cx="1819.4" cy="1408.5" r="3.4" fill="#fff" stroke="#111" stroke-width="1.3"/><circle cx="1847" cy="1408.5" r="3.4" fill="#fff" stroke="#111" stroke-width="1.3"/><circle cx="1815" cy="1425.9" r="9.8" fill="none" stroke="#111" stroke-width="1.4"/>
<path d="M1880,1476 C1880,1468 1885,1466 1890,1470 C1895,1476 1899,1478 1901.5,1468" fill="none" stroke="#111" stroke-width="1.6"/>
<path d="M1479.1,899 L1497.4,894.6 L1504.2,897.7 L1504.2,918 L1486.6,923.5 L1479.8,920.8 Z" fill="#fff" stroke="#111" stroke-width="1.4" />
<path d="M1479.1,899 L1486.6,902.4 L1504.2,897.7" fill="none" stroke="#111" stroke-width="1.3" />
<path d="M1486.6,902.4 L1486.6,923.5" fill="none" stroke="#111" stroke-width="1.3" />
<path d="M1484.5,902.4 L1484.5,922.1" fill="none" stroke="#111" stroke-width="2.2" />
<ellipse cx="1491" cy="918.7" rx="1.7" ry="2.7" fill="none" stroke="#111" stroke-width="1.3"/>
<path d="M1479.8,952 L1492,947.9 L1492,941.1 L1494.7,941.5 L1508.3,950.7 L1526,961.5 L1524.6,967.6 L1517.8,968.3 L1517.8,975.1 L1512.4,975.8 L1502.9,973.8 L1496.8,976.5 L1486.6,977.8 L1479.8,977.8 L1467.6,978.5 L1465.2,968.3 L1468.9,960.2 L1478.4,958.1 Z" fill="#fff" stroke="#111" stroke-width="1.4" />
<ellipse cx="1491.3" cy="952" rx="10.2" ry="4.1" fill="none" stroke="#111" stroke-width="1.4"/>
<ellipse cx="1474.3" cy="969" rx="4.1" ry="6.1" fill="none" stroke="#111" stroke-width="2"/>
<path d="M1481.1,963.6 L1482.5,976.5" fill="none" stroke="#111" stroke-width="3" />
<path d="M1507,954.7 L1508.3,973.8" fill="none" stroke="#111" stroke-width="3" />
<path d="M1490,961.5 L1495.4,960.8 L1495.4,973.8 L1490.7,974.4 Z" fill="none" stroke="#111" stroke-width="1.4" />
<defs><pattern id="dhatch" patternUnits="userSpaceOnUse" width="3" height="3" patternTransform="rotate(-40)"><rect width="3" height="1.3" fill="#111"/></pattern></defs>
<path d="M369.2,481 L373.9,466.9 L383.3,461.1 L388,468.1 L380.9,483.4 Z" fill="url(#dhatch)" stroke="#111" stroke-width="1.3" />
<path d="M398.5,479.9 L403.2,468.1 L410.3,466.9 L413.8,475.2 L402.1,481 Z" fill="url(#dhatch)" stroke="#111" stroke-width="1.3" />
<path d="M391.5,491.6 L397.4,484 L411.5,489.2 L405.6,499.8 Z" fill="url(#dhatch)" stroke="#111" stroke-width="1.3" />
<path d="M400.9,431.2 L398.5,441.1 L442,471.6" fill="none" stroke="#111" stroke-width="1.3" />
<path d="M349.2,572.6 L351.6,586.7" fill="none" stroke="#111" stroke-width="1.2" />
<path d="M345.7,571.4 L346.9,586.7" fill="none" stroke="#111" stroke-width="1.2" />
<path d="M494.7,513.6 L509.5,528.5 L534.2,540.3 L551,531.4" fill="none" stroke="#111" stroke-width="1.3" />
<path d="M502.6,508.7 L517.4,522.5 L539.2,531.4" fill="none" stroke="#111" stroke-width="1.3" />
<path d="M499.6,449.4 L505.6,445.5 L511.5,451.4 L509.5,459.3 L502.6,461.3 Z" fill="none" stroke="#111" stroke-width="1.2" />
<path d="M539.2,536.4 L541.1,544.3 L547.1,545.3 L549.1,536.4" fill="none" stroke="#111" stroke-width="1.6" />
<path d="M1306.8,765.7 L1312.7,758.8 L1360.7,782.3 L1355.8,789.2 Z" fill="url(#dhatch)" stroke="#111" stroke-width="1.3" />
<path d="M1348,809.8 L1359.8,805.8 L1367.6,876.4 L1355.8,880.3 Z" fill="none" stroke="#111" stroke-width="1.3" />
</g>
<g font-family="Liberation Sans, sans-serif" font-size="31" fill="#000" stroke="#fff" stroke-width="0.7">
<text transform="translate(517,80) scale(0.82,1)" text-anchor="middle">9</text>
<text transform="translate(621.5,80) scale(0.82,1)" text-anchor="middle">86</text>
<text transform="translate(684,80) scale(0.82,1)" text-anchor="middle">83</text>
<text transform="translate(758,80) scale(0.82,1)" text-anchor="middle">85</text>
<text transform="translate(796,80) scale(0.82,1)" text-anchor="middle">84</text>
<text transform="translate(848,80) scale(0.82,1)" text-anchor="middle">80</text>
<text transform="translate(911.5,80) scale(0.82,1)" text-anchor="middle">82</text>
<text transform="translate(966,80) scale(0.82,1)" text-anchor="middle">16</text>
<text transform="translate(1013.5,80) scale(0.82,1)" text-anchor="middle">52</text>
<text transform="translate(1056,80) scale(0.82,1)" text-anchor="middle">15</text>
<text transform="translate(1093,80) scale(0.82,1)" text-anchor="middle">14</text>
<text transform="translate(1133,80) scale(0.82,1)" text-anchor="middle">61</text>
<text transform="translate(1181,80) scale(0.82,1)" text-anchor="middle">87</text>
<text transform="translate(1239,80) scale(0.82,1)" text-anchor="middle">81</text>
<text transform="translate(1459,80) scale(0.82,1)" text-anchor="middle">1</text>
<text transform="translate(1623,80) scale(0.82,1)" text-anchor="middle">11</text>
<text transform="translate(1667,80) scale(0.82,1)" text-anchor="middle">12</text>
<text transform="translate(1715.5,80) scale(0.82,1)" text-anchor="middle">70</text>
<text transform="translate(1013,23.5) scale(0.82,1)" text-anchor="middle">55</text>
<text transform="translate(1367,134) scale(0.82,1)" text-anchor="middle">57</text>
<text transform="translate(1451,434) scale(0.82,1)" text-anchor="middle">124</text>
<text transform="translate(1316,481) scale(0.82,1)" text-anchor="middle">7</text>
<text transform="translate(1423,481) scale(0.82,1)" text-anchor="middle">58</text>
<text transform="translate(1488.6,481) scale(0.82,1)" text-anchor="middle">56</text>
<text transform="translate(1565,481) scale(0.82,1)" text-anchor="middle">3</text>
<text transform="translate(1642.7,481) scale(0.82,1)" text-anchor="middle">33</text>
<text transform="translate(1702,481) scale(0.82,1)" text-anchor="middle">6</text>
<text transform="translate(1794.7,481) scale(0.82,1)" text-anchor="middle">18</text>
<text transform="translate(1954,481) scale(0.82,1)" text-anchor="middle">71</text>
<text transform="translate(1994,481) scale(0.82,1)" text-anchor="middle">19</text>
<text transform="translate(2053,481) scale(0.82,1)" text-anchor="middle">33</text>
<text transform="translate(2165,481) scale(0.82,1)" text-anchor="middle">4</text>
<text transform="translate(2261,481) scale(0.82,1)" text-anchor="middle">5</text>
<text transform="translate(2213,437) scale(0.82,1)" text-anchor="middle">1005</text>
<text transform="translate(176,502) scale(0.82,1)" text-anchor="middle">54</text>
<text transform="translate(234,410.5) scale(0.82,1)" text-anchor="middle">64</text>
<text transform="translate(234,459) scale(0.82,1)" text-anchor="middle">63</text>
<text transform="translate(234,627.5) scale(0.82,1)" text-anchor="middle">62</text>
<text transform="translate(234,670) scale(0.82,1)" text-anchor="middle">65</text>
<text transform="translate(234,720) scale(0.82,1)" text-anchor="middle">31</text>
<text transform="translate(176.5,788) scale(0.82,1)" text-anchor="middle">32</text>
<text transform="translate(233.6,831.5) scale(0.82,1)" text-anchor="middle">51</text>
<text transform="translate(234,904.6) scale(0.82,1)" text-anchor="middle">42</text>
<text transform="translate(234,930.7) scale(0.82,1)" text-anchor="middle">42</text>
<text transform="translate(234,956) scale(0.82,1)" text-anchor="middle">43</text>
<text transform="translate(234,982.5) scale(0.82,1)" text-anchor="middle">44</text>
<text transform="translate(176.5,942.5) scale(0.82,1)" text-anchor="middle">53</text>
<text transform="translate(176.5,1096.7) scale(0.82,1)" text-anchor="middle">52</text>
<text transform="translate(176.5,1147.6) scale(0.82,1)" text-anchor="middle">53</text>
<text transform="translate(532,1214.5) scale(0.82,1)" text-anchor="middle">30</text>
<text transform="translate(177,1259) scale(0.82,1)" text-anchor="middle">26</text>
<text transform="translate(177,1298) scale(0.82,1)" text-anchor="middle">50</text>
<text transform="translate(116,1349) scale(0.82,1)" text-anchor="middle">55</text>
<text transform="translate(178,1393.5) scale(0.82,1)" text-anchor="middle">92</text>
<text transform="translate(532,1466.6) scale(0.82,1)" text-anchor="middle">59</text>
<text transform="translate(177,1518.4) scale(0.82,1)" text-anchor="middle">72</text>
<text transform="translate(177,1637.8) scale(0.82,1)" text-anchor="middle">40</text>
<text transform="translate(613,826) scale(0.82,1)" text-anchor="middle">24</text>
<text transform="translate(677,826) scale(0.82,1)" text-anchor="middle">88</text>
<text transform="translate(798,826) scale(0.82,1)" text-anchor="middle">8</text>
<text transform="translate(949,826) scale(0.82,1)" text-anchor="middle">2</text>
<text transform="translate(700,1275.3) scale(0.82,1)" text-anchor="middle">23</text>
<text transform="translate(700,1420.6) scale(0.82,1)" text-anchor="middle">21</text>
<text transform="translate(699.5,1620.4) scale(0.82,1)" text-anchor="middle">41</text>
<text transform="translate(1341,1137.5) scale(0.82,1)" text-anchor="middle">34</text>
<text transform="translate(1431.5,1137.5) scale(0.82,1)" text-anchor="middle">58</text>
<text transform="translate(1485,1137.5) scale(0.82,1)" text-anchor="middle">56</text>
<text transform="translate(1531.5,1137.5) scale(0.82,1)" text-anchor="middle">28</text>
<text transform="translate(1585.5,1137.5) scale(0.82,1)" text-anchor="middle">10</text>
<text transform="translate(1629,1137.5) scale(0.82,1)" text-anchor="middle">17</text>
<text transform="translate(1692.6,1137.5) scale(0.82,1)" text-anchor="middle">20</text>
<text transform="translate(1830,1137.5) scale(0.82,1)" text-anchor="middle">1001</text>
<text transform="translate(1459.4,1196.3) scale(0.82,1)" text-anchor="middle">124</text>
<text transform="translate(488,799) scale(0.82,1)">880</text>
<text transform="translate(491,838) scale(0.82,1)">5 g</text>
<text transform="translate(491,875) scale(0.82,1)">0.2 oz</text>
<text transform="translate(492.6,1078.4) scale(0.82,1)">885</text>
<text transform="translate(492.6,1118) scale(0.82,1)">2 g</text>
<text transform="translate(492.6,1155.5) scale(0.82,1)">0.1 oz</text>
</g>
</svg></body></html>
